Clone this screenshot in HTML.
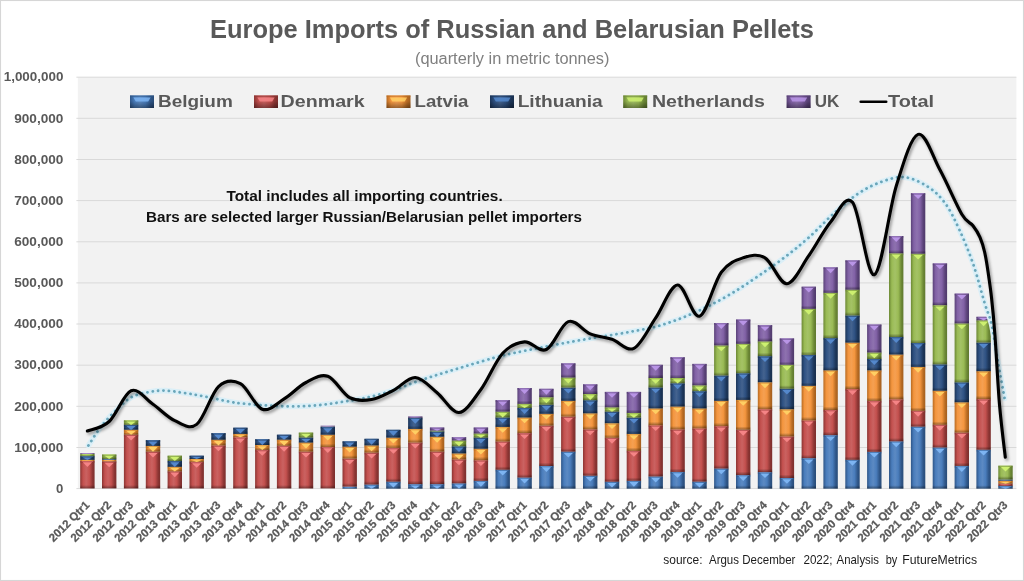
<!DOCTYPE html>
<html lang="en"><head><meta charset="utf-8"><title>Europe Imports of Russian and Belarusian Pellets</title>
<style>html,body{margin:0;padding:0;background:#fff}svg{display:block}text{font-family:"Liberation Sans",sans-serif}.b{font-weight:bold}</style>
</head><body>
<svg width="1024" height="581" viewBox="0 0 1024 581">
<defs>
<linearGradient id="g0" x1="0" x2="1" y1="0" y2="0"><stop offset="0" stop-color="#2f5688"/><stop offset=".2" stop-color="#4a7dbc"/><stop offset=".42" stop-color="#5c8ac3"/><stop offset=".64" stop-color="#4a7dbc"/><stop offset=".86" stop-color="#2f5688"/><stop offset="1" stop-color="#294c78"/></linearGradient>
<linearGradient id="g1" x1="0" x2="1" y1="0" y2="0"><stop offset="0" stop-color="#8c3533"/><stop offset=".2" stop-color="#c4514f"/><stop offset=".42" stop-color="#ca6261"/><stop offset=".64" stop-color="#c4514f"/><stop offset=".86" stop-color="#8c3533"/><stop offset="1" stop-color="#7b2f2d"/></linearGradient>
<linearGradient id="g2" x1="0" x2="1" y1="0" y2="0"><stop offset="0" stop-color="#b86b22"/><stop offset=".2" stop-color="#f4963f"/><stop offset=".42" stop-color="#f5a052"/><stop offset=".64" stop-color="#f4963f"/><stop offset=".86" stop-color="#b86b22"/><stop offset="1" stop-color="#a25e1e"/></linearGradient>
<linearGradient id="g3" x1="0" x2="1" y1="0" y2="0"><stop offset="0" stop-color="#1c3558"/><stop offset=".2" stop-color="#2f5283"/><stop offset=".42" stop-color="#44638f"/><stop offset=".64" stop-color="#2f5283"/><stop offset=".86" stop-color="#1c3558"/><stop offset="1" stop-color="#192f4d"/></linearGradient>
<linearGradient id="g4" x1="0" x2="1" y1="0" y2="0"><stop offset="0" stop-color="#6c8835"/><stop offset=".2" stop-color="#9abb55"/><stop offset=".42" stop-color="#a4c266"/><stop offset=".64" stop-color="#9abb55"/><stop offset=".86" stop-color="#6c8835"/><stop offset="1" stop-color="#5f782f"/></linearGradient>
<linearGradient id="g5" x1="0" x2="1" y1="0" y2="0"><stop offset="0" stop-color="#5a4278"/><stop offset=".2" stop-color="#8262a6"/><stop offset=".42" stop-color="#8e72af"/><stop offset=".64" stop-color="#8262a6"/><stop offset=".86" stop-color="#5a4278"/><stop offset="1" stop-color="#4f3a6a"/></linearGradient>
<linearGradient id="sh" x1="0" x2="0" y1="0" y2="1"><stop offset="0" stop-color="#000" stop-opacity="0"/><stop offset="1" stop-color="#000" stop-opacity=".38"/></linearGradient>
<filter id="blur" x="-5%" y="-5%" width="110%" height="110%"><feGaussianBlur stdDeviation="1.6"/></filter>
<filter id="blur2" x="-5%" y="-5%" width="110%" height="110%"><feGaussianBlur stdDeviation="1.2"/></filter>
</defs>
<rect x="0" y="0" width="1024" height="581" fill="#fff"/>
<rect x="0.5" y="0.5" width="1023" height="580" fill="none" stroke="#d6d6d6" stroke-width="1.1"/>
<rect x="77.8" y="77.2" width="938.6" height="411.4" fill="#f2f2f2"/>
<line x1="76.4" x2="1016.4" y1="488.6" y2="488.6" stroke="#d9d9d9" stroke-width="1"/>
<line x1="76.4" x2="1016.4" y1="447.5" y2="447.5" stroke="#d9d9d9" stroke-width="1"/>
<line x1="76.4" x2="1016.4" y1="406.3" y2="406.3" stroke="#d9d9d9" stroke-width="1"/>
<line x1="76.4" x2="1016.4" y1="365.2" y2="365.2" stroke="#d9d9d9" stroke-width="1"/>
<line x1="76.4" x2="1016.4" y1="324.0" y2="324.0" stroke="#d9d9d9" stroke-width="1"/>
<line x1="76.4" x2="1016.4" y1="282.9" y2="282.9" stroke="#d9d9d9" stroke-width="1"/>
<line x1="76.4" x2="1016.4" y1="241.8" y2="241.8" stroke="#d9d9d9" stroke-width="1"/>
<line x1="76.4" x2="1016.4" y1="200.6" y2="200.6" stroke="#d9d9d9" stroke-width="1"/>
<line x1="76.4" x2="1016.4" y1="159.5" y2="159.5" stroke="#d9d9d9" stroke-width="1"/>
<line x1="76.4" x2="1016.4" y1="118.3" y2="118.3" stroke="#d9d9d9" stroke-width="1"/>
<line x1="76.4" x2="1016.4" y1="77.2" y2="77.2" stroke="#d9d9d9" stroke-width="1"/>
<text class="b" x="512" y="37.7" font-size="26.4" fill="#595959" text-anchor="middle" textLength="604" lengthAdjust="spacingAndGlyphs">Europe Imports of Russian and Belarusian Pellets</text>
<text x="512.2" y="64.2" font-size="15.6" fill="#7f7f7f" text-anchor="middle" textLength="194.5" lengthAdjust="spacingAndGlyphs">(quarterly in metric tonnes)</text>
<text class="b" x="63.4" y="492.8" font-size="12.9" fill="#595959" text-anchor="end" textLength="7.3" lengthAdjust="spacingAndGlyphs">0</text>
<text class="b" x="63.4" y="451.7" font-size="12.9" fill="#595959" text-anchor="end" textLength="49.2" lengthAdjust="spacingAndGlyphs">100,000</text>
<text class="b" x="63.4" y="410.5" font-size="12.9" fill="#595959" text-anchor="end" textLength="49.2" lengthAdjust="spacingAndGlyphs">200,000</text>
<text class="b" x="63.4" y="369.4" font-size="12.9" fill="#595959" text-anchor="end" textLength="49.2" lengthAdjust="spacingAndGlyphs">300,000</text>
<text class="b" x="63.4" y="328.2" font-size="12.9" fill="#595959" text-anchor="end" textLength="49.2" lengthAdjust="spacingAndGlyphs">400,000</text>
<text class="b" x="63.4" y="287.1" font-size="12.9" fill="#595959" text-anchor="end" textLength="49.2" lengthAdjust="spacingAndGlyphs">500,000</text>
<text class="b" x="63.4" y="246.0" font-size="12.9" fill="#595959" text-anchor="end" textLength="49.2" lengthAdjust="spacingAndGlyphs">600,000</text>
<text class="b" x="63.4" y="204.8" font-size="12.9" fill="#595959" text-anchor="end" textLength="49.2" lengthAdjust="spacingAndGlyphs">700,000</text>
<text class="b" x="63.4" y="163.7" font-size="12.9" fill="#595959" text-anchor="end" textLength="49.2" lengthAdjust="spacingAndGlyphs">800,000</text>
<text class="b" x="63.4" y="122.5" font-size="12.9" fill="#595959" text-anchor="end" textLength="49.2" lengthAdjust="spacingAndGlyphs">900,000</text>
<text class="b" x="63.4" y="81.4" font-size="12.9" fill="#595959" text-anchor="end" textLength="59.7" lengthAdjust="spacingAndGlyphs">1,000,000</text>
<rect x="130.0" y="95.4" width="24" height="12.6" fill="url(#g0)"/>
<rect x="130.0" y="101" width="24" height="7" fill="url(#sh)"/>
<rect x="130.0" y="95.4" width="24" height="1.6" fill="#2f5688" opacity=".45"/>
<path d="M133.4 97.6H150.6L148.2 101.6H135.8Z" fill="#7db4f2" opacity=".85"/>
<text class="b" x="158.0" y="107.1" font-size="17.3" fill="#595959" textLength="74.8" lengthAdjust="spacingAndGlyphs">Belgium</text>
<rect x="254.0" y="95.4" width="24" height="12.6" fill="url(#g1)"/>
<rect x="254.0" y="101" width="24" height="7" fill="url(#sh)"/>
<rect x="254.0" y="95.4" width="24" height="1.6" fill="#8c3533" opacity=".45"/>
<path d="M257.4 97.6H274.6L272.2 101.6H259.8Z" fill="#f58486" opacity=".85"/>
<text class="b" x="280.6" y="107.1" font-size="17.3" fill="#595959" textLength="84.1" lengthAdjust="spacingAndGlyphs">Denmark</text>
<rect x="386.5" y="95.4" width="24" height="12.6" fill="url(#g2)"/>
<rect x="386.5" y="101" width="24" height="7" fill="url(#sh)"/>
<rect x="386.5" y="95.4" width="24" height="1.6" fill="#b86b22" opacity=".45"/>
<path d="M389.9 97.6H407.1L404.7 101.6H392.3Z" fill="#ffcf63" opacity=".85"/>
<text class="b" x="414.6" y="107.1" font-size="17.3" fill="#595959" textLength="53.9" lengthAdjust="spacingAndGlyphs">Latvia</text>
<rect x="490.0" y="95.4" width="24" height="12.6" fill="url(#g3)"/>
<rect x="490.0" y="101" width="24" height="7" fill="url(#sh)"/>
<rect x="490.0" y="95.4" width="24" height="1.6" fill="#1c3558" opacity=".45"/>
<path d="M493.4 97.6H510.6L508.2 101.6H495.8Z" fill="#5488cc" opacity=".85"/>
<text class="b" x="517.7" y="107.1" font-size="17.3" fill="#595959" textLength="85.0" lengthAdjust="spacingAndGlyphs">Lithuania</text>
<rect x="623.2" y="95.4" width="24" height="12.6" fill="url(#g4)"/>
<rect x="623.2" y="101" width="24" height="7" fill="url(#sh)"/>
<rect x="623.2" y="95.4" width="24" height="1.6" fill="#6c8835" opacity=".45"/>
<path d="M626.6 97.6H643.8L641.4 101.6H629.0Z" fill="#cdf070" opacity=".85"/>
<text class="b" x="651.9" y="107.1" font-size="17.3" fill="#595959" textLength="113.0" lengthAdjust="spacingAndGlyphs">Netherlands</text>
<rect x="786.6" y="95.4" width="24" height="12.6" fill="url(#g5)"/>
<rect x="786.6" y="101" width="24" height="7" fill="url(#sh)"/>
<rect x="786.6" y="95.4" width="24" height="1.6" fill="#5a4278" opacity=".45"/>
<path d="M790.0 97.6H807.2L804.8 101.6H792.4Z" fill="#b995e6" opacity=".85"/>
<text class="b" x="814.7" y="107.1" font-size="17.3" fill="#595959" textLength="24.6" lengthAdjust="spacingAndGlyphs">UK</text>
<line x1="860.7" x2="886.2" y1="101.7" y2="101.7" stroke="#000" stroke-width="2.6" stroke-linecap="round"/>
<text class="b" x="888" y="107.1" font-size="17.3" fill="#595959" textLength="46" lengthAdjust="spacingAndGlyphs">Total</text>
<text class="b" x="226.4" y="201.1" font-size="14.6" fill="#111" textLength="276.3" lengthAdjust="spacingAndGlyphs">Total includes all importing countries.</text>
<text class="b" x="146" y="222.2" font-size="14.6" fill="#111" textLength="436" lengthAdjust="spacingAndGlyphs">Bars are selected larger Russian/Belarusian pellet importers</text>
<rect x="80.2" y="461.0" width="14.4" height="27.4" fill="url(#g1)"/>
<rect x="80.2" y="485.0" width="14.4" height="3.4" fill="url(#sh)"/>
<rect x="80.2" y="461.0" width="14.4" height="1.8" fill="#8c3533" opacity=".5"/>
<rect x="81.7" y="461.0" width="11.4" height=".8" fill="#f58486" opacity=".55"/>
<path d="M82.8 462.3L92.0 462.3L87.4 466.9Z" fill="#f58486"/>
<rect x="80.2" y="459.8" width="14.4" height="1.2" fill="url(#g2)"/>
<rect x="80.2" y="460.4" width="14.4" height="0.6" fill="url(#sh)"/>
<rect x="82.2" y="459.8" width="10.4" height="1.0" fill="#ffcf63" opacity=".4"/>
<rect x="80.2" y="456.1" width="14.4" height="3.7" fill="url(#g3)"/>
<rect x="80.2" y="458.0" width="14.4" height="1.9" fill="url(#sh)"/>
<rect x="80.2" y="456.1" width="14.4" height="1.5" fill="#1c3558" opacity=".5"/>
<rect x="81.7" y="456.1" width="11.4" height=".8" fill="#5488cc" opacity=".55"/>
<path d="M82.8 457.4L92.0 457.4L87.4 459.9Z" fill="#5488cc"/>
<rect x="80.2" y="454.0" width="14.4" height="2.1" fill="url(#g4)"/>
<rect x="80.2" y="455.1" width="14.4" height="1.0" fill="url(#sh)"/>
<rect x="82.2" y="454.0" width="10.4" height="1.0" fill="#cdf070" opacity=".4"/>
<rect x="80.2" y="453.2" width="14.4" height="0.8" fill="url(#g5)"/>
<rect x="80.2" y="453.6" width="14.4" height="0.4" fill="url(#sh)"/>
<rect x="82.2" y="453.2" width="10.4" height="0.8" fill="#b995e6" opacity=".4"/>
<rect x="102.0" y="461.4" width="14.4" height="26.9" fill="url(#g1)"/>
<rect x="102.0" y="485.0" width="14.4" height="3.4" fill="url(#sh)"/>
<rect x="102.0" y="461.4" width="14.4" height="1.8" fill="#8c3533" opacity=".5"/>
<rect x="103.5" y="461.4" width="11.4" height=".8" fill="#f58486" opacity=".55"/>
<path d="M104.6 462.7L113.8 462.7L109.2 467.3Z" fill="#f58486"/>
<rect x="102.0" y="459.8" width="14.4" height="1.6" fill="url(#g2)"/>
<rect x="102.0" y="460.6" width="14.4" height="0.8" fill="url(#sh)"/>
<rect x="104.0" y="459.8" width="10.4" height="1.0" fill="#ffcf63" opacity=".4"/>
<rect x="102.0" y="459.0" width="14.4" height="0.8" fill="url(#g3)"/>
<rect x="102.0" y="459.4" width="14.4" height="0.4" fill="url(#sh)"/>
<rect x="104.0" y="459.0" width="10.4" height="0.8" fill="#5488cc" opacity=".4"/>
<rect x="102.0" y="454.5" width="14.4" height="4.5" fill="url(#g4)"/>
<rect x="102.0" y="456.7" width="14.4" height="2.3" fill="url(#sh)"/>
<rect x="102.0" y="454.5" width="14.4" height="1.8" fill="#6c8835" opacity=".5"/>
<rect x="103.5" y="454.5" width="11.4" height=".8" fill="#cdf070" opacity=".55"/>
<path d="M104.6 455.8L113.8 455.8L109.2 459.1Z" fill="#cdf070"/>
<rect x="123.9" y="434.7" width="14.4" height="53.7" fill="url(#g1)"/>
<rect x="123.9" y="485.0" width="14.4" height="3.4" fill="url(#sh)"/>
<rect x="123.9" y="434.7" width="14.4" height="1.8" fill="#8c3533" opacity=".5"/>
<rect x="125.4" y="434.7" width="11.4" height=".8" fill="#f58486" opacity=".55"/>
<path d="M126.5 436.0L135.7 436.0L131.1 440.6Z" fill="#f58486"/>
<rect x="123.9" y="429.8" width="14.4" height="4.9" fill="url(#g2)"/>
<rect x="123.9" y="432.2" width="14.4" height="2.5" fill="url(#sh)"/>
<rect x="123.9" y="429.8" width="14.4" height="1.8" fill="#b86b22" opacity=".5"/>
<rect x="125.4" y="429.8" width="11.4" height=".8" fill="#ffcf63" opacity=".55"/>
<path d="M126.5 431.1L135.7 431.1L131.1 434.8Z" fill="#ffcf63"/>
<rect x="123.9" y="424.8" width="14.4" height="4.9" fill="url(#g3)"/>
<rect x="123.9" y="427.3" width="14.4" height="2.5" fill="url(#sh)"/>
<rect x="123.9" y="424.8" width="14.4" height="1.8" fill="#1c3558" opacity=".5"/>
<rect x="125.4" y="424.8" width="11.4" height=".8" fill="#5488cc" opacity=".55"/>
<path d="M126.5 426.1L135.7 426.1L131.1 429.9Z" fill="#5488cc"/>
<rect x="123.9" y="420.3" width="14.4" height="4.5" fill="url(#g4)"/>
<rect x="123.9" y="422.6" width="14.4" height="2.3" fill="url(#sh)"/>
<rect x="123.9" y="420.3" width="14.4" height="1.8" fill="#6c8835" opacity=".5"/>
<rect x="125.4" y="420.3" width="11.4" height=".8" fill="#cdf070" opacity=".55"/>
<path d="M126.5 421.6L135.7 421.6L131.1 424.9Z" fill="#cdf070"/>
<rect x="145.8" y="451.6" width="14.4" height="36.8" fill="url(#g1)"/>
<rect x="145.8" y="485.0" width="14.4" height="3.4" fill="url(#sh)"/>
<rect x="145.8" y="451.6" width="14.4" height="1.8" fill="#8c3533" opacity=".5"/>
<rect x="147.3" y="451.6" width="11.4" height=".8" fill="#f58486" opacity=".55"/>
<path d="M148.4 452.9L157.6 452.9L153.0 457.5Z" fill="#f58486"/>
<rect x="145.8" y="445.8" width="14.4" height="5.8" fill="url(#g2)"/>
<rect x="145.8" y="448.7" width="14.4" height="2.9" fill="url(#sh)"/>
<rect x="145.8" y="445.8" width="14.4" height="1.8" fill="#b86b22" opacity=".5"/>
<rect x="147.3" y="445.8" width="11.4" height=".8" fill="#ffcf63" opacity=".55"/>
<path d="M148.4 447.1L157.6 447.1L153.0 451.7Z" fill="#ffcf63"/>
<rect x="145.8" y="440.1" width="14.4" height="5.8" fill="url(#g3)"/>
<rect x="145.8" y="442.9" width="14.4" height="2.9" fill="url(#sh)"/>
<rect x="145.8" y="440.1" width="14.4" height="1.8" fill="#1c3558" opacity=".5"/>
<rect x="147.3" y="440.1" width="11.4" height=".8" fill="#5488cc" opacity=".55"/>
<path d="M148.4 441.4L157.6 441.4L153.0 445.9Z" fill="#5488cc"/>
<rect x="167.6" y="471.3" width="14.4" height="17.1" fill="url(#g1)"/>
<rect x="167.6" y="485.0" width="14.4" height="3.4" fill="url(#sh)"/>
<rect x="167.6" y="471.3" width="14.4" height="1.8" fill="#8c3533" opacity=".5"/>
<rect x="169.1" y="471.3" width="11.4" height=".8" fill="#f58486" opacity=".55"/>
<path d="M170.2 472.6L179.4 472.6L174.8 477.2Z" fill="#f58486"/>
<rect x="167.6" y="466.8" width="14.4" height="4.5" fill="url(#g2)"/>
<rect x="167.6" y="469.1" width="14.4" height="2.3" fill="url(#sh)"/>
<rect x="167.6" y="466.8" width="14.4" height="1.8" fill="#b86b22" opacity=".5"/>
<rect x="169.1" y="466.8" width="11.4" height=".8" fill="#ffcf63" opacity=".55"/>
<path d="M170.2 468.1L179.4 468.1L174.8 471.4Z" fill="#ffcf63"/>
<rect x="167.6" y="461.0" width="14.4" height="5.8" fill="url(#g3)"/>
<rect x="167.6" y="463.9" width="14.4" height="2.9" fill="url(#sh)"/>
<rect x="167.6" y="461.0" width="14.4" height="1.8" fill="#1c3558" opacity=".5"/>
<rect x="169.1" y="461.0" width="11.4" height=".8" fill="#5488cc" opacity=".55"/>
<path d="M170.2 462.3L179.4 462.3L174.8 466.9Z" fill="#5488cc"/>
<rect x="167.6" y="455.7" width="14.4" height="5.3" fill="url(#g4)"/>
<rect x="167.6" y="458.4" width="14.4" height="2.7" fill="url(#sh)"/>
<rect x="167.6" y="455.7" width="14.4" height="1.8" fill="#6c8835" opacity=".5"/>
<rect x="169.1" y="455.7" width="11.4" height=".8" fill="#cdf070" opacity=".55"/>
<path d="M170.2 457.0L179.4 457.0L174.8 461.1Z" fill="#cdf070"/>
<rect x="189.5" y="461.9" width="14.4" height="26.5" fill="url(#g1)"/>
<rect x="189.5" y="485.0" width="14.4" height="3.4" fill="url(#sh)"/>
<rect x="189.5" y="461.9" width="14.4" height="1.8" fill="#8c3533" opacity=".5"/>
<rect x="191.0" y="461.9" width="11.4" height=".8" fill="#f58486" opacity=".55"/>
<path d="M192.1 463.2L201.3 463.2L196.7 467.8Z" fill="#f58486"/>
<rect x="189.5" y="459.0" width="14.4" height="2.9" fill="url(#g2)"/>
<rect x="189.5" y="460.4" width="14.4" height="1.4" fill="url(#sh)"/>
<rect x="189.5" y="459.0" width="14.4" height="1.2" fill="#b86b22" opacity=".5"/>
<rect x="191.0" y="459.0" width="11.4" height=".8" fill="#ffcf63" opacity=".55"/>
<path d="M192.1 460.3L201.3 460.3L196.7 462.0Z" fill="#ffcf63"/>
<rect x="189.5" y="455.7" width="14.4" height="3.3" fill="url(#g3)"/>
<rect x="189.5" y="457.3" width="14.4" height="1.6" fill="url(#sh)"/>
<rect x="189.5" y="455.7" width="14.4" height="1.3" fill="#1c3558" opacity=".5"/>
<rect x="191.0" y="455.7" width="11.4" height=".8" fill="#5488cc" opacity=".55"/>
<path d="M192.1 457.0L201.3 457.0L196.7 459.1Z" fill="#5488cc"/>
<rect x="211.3" y="445.4" width="14.4" height="43.0" fill="url(#g1)"/>
<rect x="211.3" y="485.0" width="14.4" height="3.4" fill="url(#sh)"/>
<rect x="211.3" y="445.4" width="14.4" height="1.8" fill="#8c3533" opacity=".5"/>
<rect x="212.8" y="445.4" width="11.4" height=".8" fill="#f58486" opacity=".55"/>
<path d="M213.9 446.7L223.1 446.7L218.5 451.3Z" fill="#f58486"/>
<rect x="211.3" y="439.6" width="14.4" height="5.8" fill="url(#g2)"/>
<rect x="211.3" y="442.5" width="14.4" height="2.9" fill="url(#sh)"/>
<rect x="211.3" y="439.6" width="14.4" height="1.8" fill="#b86b22" opacity=".5"/>
<rect x="212.8" y="439.6" width="11.4" height=".8" fill="#ffcf63" opacity=".55"/>
<path d="M213.9 440.9L223.1 440.9L218.5 445.5Z" fill="#ffcf63"/>
<rect x="211.3" y="433.1" width="14.4" height="6.6" fill="url(#g3)"/>
<rect x="211.3" y="436.4" width="14.4" height="3.3" fill="url(#sh)"/>
<rect x="211.3" y="433.1" width="14.4" height="1.8" fill="#1c3558" opacity=".5"/>
<rect x="212.8" y="433.1" width="11.4" height=".8" fill="#5488cc" opacity=".55"/>
<path d="M213.9 434.4L223.1 434.4L218.5 439.0Z" fill="#5488cc"/>
<rect x="233.2" y="437.2" width="14.4" height="51.2" fill="url(#g1)"/>
<rect x="233.2" y="485.0" width="14.4" height="3.4" fill="url(#sh)"/>
<rect x="233.2" y="437.2" width="14.4" height="1.8" fill="#8c3533" opacity=".5"/>
<rect x="234.7" y="437.2" width="11.4" height=".8" fill="#f58486" opacity=".55"/>
<path d="M235.8 438.5L245.0 438.5L240.4 443.1Z" fill="#f58486"/>
<rect x="233.2" y="433.9" width="14.4" height="3.3" fill="url(#g2)"/>
<rect x="233.2" y="435.5" width="14.4" height="1.6" fill="url(#sh)"/>
<rect x="233.2" y="433.9" width="14.4" height="1.3" fill="#b86b22" opacity=".5"/>
<rect x="234.7" y="433.9" width="11.4" height=".8" fill="#ffcf63" opacity=".55"/>
<path d="M235.8 435.2L245.0 435.2L240.4 437.3Z" fill="#ffcf63"/>
<rect x="233.2" y="427.7" width="14.4" height="6.2" fill="url(#g3)"/>
<rect x="233.2" y="430.8" width="14.4" height="3.1" fill="url(#sh)"/>
<rect x="233.2" y="427.7" width="14.4" height="1.8" fill="#1c3558" opacity=".5"/>
<rect x="234.7" y="427.7" width="11.4" height=".8" fill="#5488cc" opacity=".55"/>
<path d="M235.8 429.0L245.0 429.0L240.4 433.6Z" fill="#5488cc"/>
<rect x="255.1" y="449.9" width="14.4" height="38.5" fill="url(#g1)"/>
<rect x="255.1" y="485.0" width="14.4" height="3.4" fill="url(#sh)"/>
<rect x="255.1" y="449.9" width="14.4" height="1.8" fill="#8c3533" opacity=".5"/>
<rect x="256.6" y="449.9" width="11.4" height=".8" fill="#f58486" opacity=".55"/>
<path d="M257.7 451.2L266.9 451.2L262.3 455.8Z" fill="#f58486"/>
<rect x="255.1" y="445.0" width="14.4" height="4.9" fill="url(#g2)"/>
<rect x="255.1" y="447.5" width="14.4" height="2.5" fill="url(#sh)"/>
<rect x="255.1" y="445.0" width="14.4" height="1.8" fill="#b86b22" opacity=".5"/>
<rect x="256.6" y="445.0" width="11.4" height=".8" fill="#ffcf63" opacity=".55"/>
<path d="M257.7 446.3L266.9 446.3L262.3 450.0Z" fill="#ffcf63"/>
<rect x="255.1" y="439.2" width="14.4" height="5.8" fill="url(#g3)"/>
<rect x="255.1" y="442.1" width="14.4" height="2.9" fill="url(#sh)"/>
<rect x="255.1" y="439.2" width="14.4" height="1.8" fill="#1c3558" opacity=".5"/>
<rect x="256.6" y="439.2" width="11.4" height=".8" fill="#5488cc" opacity=".55"/>
<path d="M257.7 440.5L266.9 440.5L262.3 445.1Z" fill="#5488cc"/>
<rect x="276.9" y="445.8" width="14.4" height="42.6" fill="url(#g1)"/>
<rect x="276.9" y="485.0" width="14.4" height="3.4" fill="url(#sh)"/>
<rect x="276.9" y="445.8" width="14.4" height="1.8" fill="#8c3533" opacity=".5"/>
<rect x="278.4" y="445.8" width="11.4" height=".8" fill="#f58486" opacity=".55"/>
<path d="M279.5 447.1L288.7 447.1L284.1 451.7Z" fill="#f58486"/>
<rect x="276.9" y="439.6" width="14.4" height="6.2" fill="url(#g2)"/>
<rect x="276.9" y="442.7" width="14.4" height="3.1" fill="url(#sh)"/>
<rect x="276.9" y="439.6" width="14.4" height="1.8" fill="#b86b22" opacity=".5"/>
<rect x="278.4" y="439.6" width="11.4" height=".8" fill="#ffcf63" opacity=".55"/>
<path d="M279.5 440.9L288.7 440.9L284.1 445.5Z" fill="#ffcf63"/>
<rect x="276.9" y="434.7" width="14.4" height="4.9" fill="url(#g3)"/>
<rect x="276.9" y="437.2" width="14.4" height="2.5" fill="url(#sh)"/>
<rect x="276.9" y="434.7" width="14.4" height="1.8" fill="#1c3558" opacity=".5"/>
<rect x="278.4" y="434.7" width="11.4" height=".8" fill="#5488cc" opacity=".55"/>
<path d="M279.5 436.0L288.7 436.0L284.1 439.7Z" fill="#5488cc"/>
<rect x="298.8" y="451.6" width="14.4" height="36.8" fill="url(#g1)"/>
<rect x="298.8" y="485.0" width="14.4" height="3.4" fill="url(#sh)"/>
<rect x="298.8" y="451.6" width="14.4" height="1.8" fill="#8c3533" opacity=".5"/>
<rect x="300.3" y="451.6" width="11.4" height=".8" fill="#f58486" opacity=".55"/>
<path d="M301.4 452.9L310.6 452.9L306.0 457.5Z" fill="#f58486"/>
<rect x="298.8" y="442.5" width="14.4" height="9.1" fill="url(#g2)"/>
<rect x="298.8" y="448.2" width="14.4" height="3.4" fill="url(#sh)"/>
<rect x="298.8" y="442.5" width="14.4" height="1.8" fill="#b86b22" opacity=".5"/>
<rect x="300.3" y="442.5" width="11.4" height=".8" fill="#ffcf63" opacity=".55"/>
<path d="M301.4 443.8L310.6 443.8L306.0 448.4Z" fill="#ffcf63"/>
<rect x="298.8" y="437.6" width="14.4" height="4.9" fill="url(#g3)"/>
<rect x="298.8" y="440.1" width="14.4" height="2.5" fill="url(#sh)"/>
<rect x="298.8" y="437.6" width="14.4" height="1.8" fill="#1c3558" opacity=".5"/>
<rect x="300.3" y="437.6" width="11.4" height=".8" fill="#5488cc" opacity=".55"/>
<path d="M301.4 438.9L310.6 438.9L306.0 442.6Z" fill="#5488cc"/>
<rect x="298.8" y="432.6" width="14.4" height="4.9" fill="url(#g4)"/>
<rect x="298.8" y="435.1" width="14.4" height="2.5" fill="url(#sh)"/>
<rect x="298.8" y="432.6" width="14.4" height="1.8" fill="#6c8835" opacity=".5"/>
<rect x="300.3" y="432.6" width="11.4" height=".8" fill="#cdf070" opacity=".55"/>
<path d="M301.4 433.9L310.6 433.9L306.0 437.7Z" fill="#cdf070"/>
<rect x="320.6" y="447.0" width="14.4" height="41.3" fill="url(#g1)"/>
<rect x="320.6" y="485.0" width="14.4" height="3.4" fill="url(#sh)"/>
<rect x="320.6" y="447.0" width="14.4" height="1.8" fill="#8c3533" opacity=".5"/>
<rect x="322.1" y="447.0" width="11.4" height=".8" fill="#f58486" opacity=".55"/>
<path d="M323.2 448.3L332.4 448.3L327.8 452.9Z" fill="#f58486"/>
<rect x="320.6" y="434.7" width="14.4" height="12.3" fill="url(#g2)"/>
<rect x="320.6" y="443.6" width="14.4" height="3.4" fill="url(#sh)"/>
<rect x="320.6" y="434.7" width="14.4" height="1.8" fill="#b86b22" opacity=".5"/>
<rect x="322.1" y="434.7" width="11.4" height=".8" fill="#ffcf63" opacity=".55"/>
<path d="M323.2 436.0L332.4 436.0L327.8 440.6Z" fill="#ffcf63"/>
<rect x="320.6" y="426.9" width="14.4" height="7.8" fill="url(#g3)"/>
<rect x="320.6" y="431.3" width="14.4" height="3.4" fill="url(#sh)"/>
<rect x="320.6" y="426.9" width="14.4" height="1.8" fill="#1c3558" opacity=".5"/>
<rect x="322.1" y="426.9" width="11.4" height=".8" fill="#5488cc" opacity=".55"/>
<path d="M323.2 428.2L332.4 428.2L327.8 432.8Z" fill="#5488cc"/>
<rect x="320.6" y="425.7" width="14.4" height="0.8" fill="url(#g5)"/>
<rect x="320.6" y="426.1" width="14.4" height="0.4" fill="url(#sh)"/>
<rect x="322.6" y="425.7" width="10.4" height="0.8" fill="#b995e6" opacity=".4"/>
<rect x="342.5" y="486.5" width="14.4" height="2.1" fill="url(#g0)"/>
<rect x="342.5" y="487.6" width="14.4" height="1.0" fill="url(#sh)"/>
<rect x="344.5" y="486.5" width="10.4" height="1.0" fill="#7db4f2" opacity=".4"/>
<rect x="342.5" y="458.6" width="14.4" height="28.0" fill="url(#g1)"/>
<rect x="342.5" y="483.1" width="14.4" height="3.4" fill="url(#sh)"/>
<rect x="342.5" y="458.6" width="14.4" height="1.8" fill="#8c3533" opacity=".5"/>
<rect x="344.0" y="458.6" width="11.4" height=".8" fill="#f58486" opacity=".55"/>
<path d="M345.1 459.9L354.3 459.9L349.7 464.5Z" fill="#f58486"/>
<rect x="342.5" y="446.6" width="14.4" height="11.9" fill="url(#g2)"/>
<rect x="342.5" y="455.2" width="14.4" height="3.4" fill="url(#sh)"/>
<rect x="342.5" y="446.6" width="14.4" height="1.8" fill="#b86b22" opacity=".5"/>
<rect x="344.0" y="446.6" width="11.4" height=".8" fill="#ffcf63" opacity=".55"/>
<path d="M345.1 447.9L354.3 447.9L349.7 452.5Z" fill="#ffcf63"/>
<rect x="342.5" y="441.3" width="14.4" height="5.3" fill="url(#g3)"/>
<rect x="342.5" y="444.0" width="14.4" height="2.7" fill="url(#sh)"/>
<rect x="342.5" y="441.3" width="14.4" height="1.8" fill="#1c3558" opacity=".5"/>
<rect x="344.0" y="441.3" width="11.4" height=".8" fill="#5488cc" opacity=".55"/>
<path d="M345.1 442.6L354.3 442.6L349.7 446.7Z" fill="#5488cc"/>
<rect x="364.4" y="484.5" width="14.4" height="4.1" fill="url(#g0)"/>
<rect x="364.4" y="486.5" width="14.4" height="2.1" fill="url(#sh)"/>
<rect x="364.4" y="484.5" width="14.4" height="1.6" fill="#2f5688" opacity=".5"/>
<rect x="365.9" y="484.5" width="11.4" height=".8" fill="#7db4f2" opacity=".55"/>
<path d="M367.0 485.8L376.2 485.8L371.6 488.7Z" fill="#7db4f2"/>
<rect x="364.4" y="452.6" width="14.4" height="31.9" fill="url(#g1)"/>
<rect x="364.4" y="481.1" width="14.4" height="3.4" fill="url(#sh)"/>
<rect x="364.4" y="452.6" width="14.4" height="1.8" fill="#8c3533" opacity=".5"/>
<rect x="365.9" y="452.6" width="11.4" height=".8" fill="#f58486" opacity=".55"/>
<path d="M367.0 453.9L376.2 453.9L371.6 458.5Z" fill="#f58486"/>
<rect x="364.4" y="445.4" width="14.4" height="7.2" fill="url(#g2)"/>
<rect x="364.4" y="449.2" width="14.4" height="3.4" fill="url(#sh)"/>
<rect x="364.4" y="445.4" width="14.4" height="1.8" fill="#b86b22" opacity=".5"/>
<rect x="365.9" y="445.4" width="11.4" height=".8" fill="#ffcf63" opacity=".55"/>
<path d="M367.0 446.7L376.2 446.7L371.6 451.3Z" fill="#ffcf63"/>
<rect x="364.4" y="438.8" width="14.4" height="6.6" fill="url(#g3)"/>
<rect x="364.4" y="442.1" width="14.4" height="3.3" fill="url(#sh)"/>
<rect x="364.4" y="438.8" width="14.4" height="1.8" fill="#1c3558" opacity=".5"/>
<rect x="365.9" y="438.8" width="11.4" height=".8" fill="#5488cc" opacity=".55"/>
<path d="M367.0 440.1L376.2 440.1L371.6 444.7Z" fill="#5488cc"/>
<rect x="386.2" y="481.6" width="14.4" height="7.0" fill="url(#g0)"/>
<rect x="386.2" y="485.2" width="14.4" height="3.4" fill="url(#sh)"/>
<rect x="386.2" y="481.6" width="14.4" height="1.8" fill="#2f5688" opacity=".5"/>
<rect x="387.7" y="481.6" width="11.4" height=".8" fill="#7db4f2" opacity=".55"/>
<path d="M388.8 482.9L398.0 482.9L393.4 487.5Z" fill="#7db4f2"/>
<rect x="386.2" y="447.9" width="14.4" height="33.7" fill="url(#g1)"/>
<rect x="386.2" y="478.2" width="14.4" height="3.4" fill="url(#sh)"/>
<rect x="386.2" y="447.9" width="14.4" height="1.8" fill="#8c3533" opacity=".5"/>
<rect x="387.7" y="447.9" width="11.4" height=".8" fill="#f58486" opacity=".55"/>
<path d="M388.8 449.2L398.0 449.2L393.4 453.8Z" fill="#f58486"/>
<rect x="386.2" y="437.6" width="14.4" height="10.3" fill="url(#g2)"/>
<rect x="386.2" y="444.5" width="14.4" height="3.4" fill="url(#sh)"/>
<rect x="386.2" y="437.6" width="14.4" height="1.8" fill="#b86b22" opacity=".5"/>
<rect x="387.7" y="437.6" width="11.4" height=".8" fill="#ffcf63" opacity=".55"/>
<path d="M388.8 438.9L398.0 438.9L393.4 443.5Z" fill="#ffcf63"/>
<rect x="386.2" y="429.8" width="14.4" height="7.8" fill="url(#g3)"/>
<rect x="386.2" y="434.2" width="14.4" height="3.4" fill="url(#sh)"/>
<rect x="386.2" y="429.8" width="14.4" height="1.8" fill="#1c3558" opacity=".5"/>
<rect x="387.7" y="429.8" width="11.4" height=".8" fill="#5488cc" opacity=".55"/>
<path d="M388.8 431.1L398.0 431.1L393.4 435.7Z" fill="#5488cc"/>
<rect x="408.1" y="484.1" width="14.4" height="4.5" fill="url(#g0)"/>
<rect x="408.1" y="486.3" width="14.4" height="2.3" fill="url(#sh)"/>
<rect x="408.1" y="484.1" width="14.4" height="1.8" fill="#2f5688" opacity=".5"/>
<rect x="409.6" y="484.1" width="11.4" height=".8" fill="#7db4f2" opacity=".55"/>
<path d="M410.7 485.4L419.9 485.4L415.3 488.7Z" fill="#7db4f2"/>
<rect x="408.1" y="442.5" width="14.4" height="41.6" fill="url(#g1)"/>
<rect x="408.1" y="480.7" width="14.4" height="3.4" fill="url(#sh)"/>
<rect x="408.1" y="442.5" width="14.4" height="1.8" fill="#8c3533" opacity=".5"/>
<rect x="409.6" y="442.5" width="11.4" height=".8" fill="#f58486" opacity=".55"/>
<path d="M410.7 443.8L419.9 443.8L415.3 448.4Z" fill="#f58486"/>
<rect x="408.1" y="428.9" width="14.4" height="13.6" fill="url(#g2)"/>
<rect x="408.1" y="439.1" width="14.4" height="3.4" fill="url(#sh)"/>
<rect x="408.1" y="428.9" width="14.4" height="1.8" fill="#b86b22" opacity=".5"/>
<rect x="409.6" y="428.9" width="11.4" height=".8" fill="#ffcf63" opacity=".55"/>
<path d="M410.7 430.2L419.9 430.2L415.3 434.8Z" fill="#ffcf63"/>
<rect x="408.1" y="417.8" width="14.4" height="11.1" fill="url(#g3)"/>
<rect x="408.1" y="425.5" width="14.4" height="3.4" fill="url(#sh)"/>
<rect x="408.1" y="417.8" width="14.4" height="1.8" fill="#1c3558" opacity=".5"/>
<rect x="409.6" y="417.8" width="11.4" height=".8" fill="#5488cc" opacity=".55"/>
<path d="M410.7 419.1L419.9 419.1L415.3 423.7Z" fill="#5488cc"/>
<rect x="408.1" y="416.4" width="14.4" height="1.4" fill="url(#g5)"/>
<rect x="408.1" y="417.1" width="14.4" height="0.7" fill="url(#sh)"/>
<rect x="410.1" y="416.4" width="10.4" height="1.0" fill="#b995e6" opacity=".4"/>
<rect x="429.9" y="484.1" width="14.4" height="4.5" fill="url(#g0)"/>
<rect x="429.9" y="486.3" width="14.4" height="2.3" fill="url(#sh)"/>
<rect x="429.9" y="484.1" width="14.4" height="1.8" fill="#2f5688" opacity=".5"/>
<rect x="431.4" y="484.1" width="11.4" height=".8" fill="#7db4f2" opacity=".55"/>
<path d="M432.5 485.4L441.7 485.4L437.1 488.7Z" fill="#7db4f2"/>
<rect x="429.9" y="451.6" width="14.4" height="32.5" fill="url(#g1)"/>
<rect x="429.9" y="480.7" width="14.4" height="3.4" fill="url(#sh)"/>
<rect x="429.9" y="451.6" width="14.4" height="1.8" fill="#8c3533" opacity=".5"/>
<rect x="431.4" y="451.6" width="11.4" height=".8" fill="#f58486" opacity=".55"/>
<path d="M432.5 452.9L441.7 452.9L437.1 457.5Z" fill="#f58486"/>
<rect x="429.9" y="436.8" width="14.4" height="14.8" fill="url(#g2)"/>
<rect x="429.9" y="448.2" width="14.4" height="3.4" fill="url(#sh)"/>
<rect x="429.9" y="436.8" width="14.4" height="1.8" fill="#b86b22" opacity=".5"/>
<rect x="431.4" y="436.8" width="11.4" height=".8" fill="#ffcf63" opacity=".55"/>
<path d="M432.5 438.1L441.7 438.1L437.1 442.7Z" fill="#ffcf63"/>
<rect x="429.9" y="431.4" width="14.4" height="5.3" fill="url(#g3)"/>
<rect x="429.9" y="434.1" width="14.4" height="2.7" fill="url(#sh)"/>
<rect x="429.9" y="431.4" width="14.4" height="1.8" fill="#1c3558" opacity=".5"/>
<rect x="431.4" y="431.4" width="11.4" height=".8" fill="#5488cc" opacity=".55"/>
<path d="M432.5 432.7L441.7 432.7L437.1 436.9Z" fill="#5488cc"/>
<rect x="429.9" y="430.6" width="14.4" height="0.8" fill="url(#g4)"/>
<rect x="429.9" y="431.0" width="14.4" height="0.4" fill="url(#sh)"/>
<rect x="431.9" y="430.6" width="10.4" height="0.8" fill="#cdf070" opacity=".4"/>
<rect x="429.9" y="427.5" width="14.4" height="3.1" fill="url(#g5)"/>
<rect x="429.9" y="429.0" width="14.4" height="1.5" fill="url(#sh)"/>
<rect x="429.9" y="427.5" width="14.4" height="1.2" fill="#5a4278" opacity=".5"/>
<rect x="431.4" y="427.5" width="11.4" height=".8" fill="#b995e6" opacity=".55"/>
<path d="M432.5 428.8L441.7 428.8L437.1 430.7Z" fill="#b995e6"/>
<rect x="451.8" y="483.3" width="14.4" height="5.3" fill="url(#g0)"/>
<rect x="451.8" y="485.9" width="14.4" height="2.7" fill="url(#sh)"/>
<rect x="451.8" y="483.3" width="14.4" height="1.8" fill="#2f5688" opacity=".5"/>
<rect x="453.3" y="483.3" width="11.4" height=".8" fill="#7db4f2" opacity=".55"/>
<path d="M454.4 484.6L463.6 484.6L459.0 488.7Z" fill="#7db4f2"/>
<rect x="451.8" y="459.4" width="14.4" height="23.9" fill="url(#g1)"/>
<rect x="451.8" y="479.9" width="14.4" height="3.4" fill="url(#sh)"/>
<rect x="451.8" y="459.4" width="14.4" height="1.8" fill="#8c3533" opacity=".5"/>
<rect x="453.3" y="459.4" width="11.4" height=".8" fill="#f58486" opacity=".55"/>
<path d="M454.4 460.7L463.6 460.7L459.0 465.3Z" fill="#f58486"/>
<rect x="451.8" y="453.4" width="14.4" height="6.0" fill="url(#g2)"/>
<rect x="451.8" y="456.4" width="14.4" height="3.0" fill="url(#sh)"/>
<rect x="451.8" y="453.4" width="14.4" height="1.8" fill="#b86b22" opacity=".5"/>
<rect x="453.3" y="453.4" width="11.4" height=".8" fill="#ffcf63" opacity=".55"/>
<path d="M454.4 454.7L463.6 454.7L459.0 459.3Z" fill="#ffcf63"/>
<rect x="451.8" y="446.2" width="14.4" height="7.2" fill="url(#g3)"/>
<rect x="451.8" y="450.0" width="14.4" height="3.4" fill="url(#sh)"/>
<rect x="451.8" y="446.2" width="14.4" height="1.8" fill="#1c3558" opacity=".5"/>
<rect x="453.3" y="446.2" width="11.4" height=".8" fill="#5488cc" opacity=".55"/>
<path d="M454.4 447.5L463.6 447.5L459.0 452.1Z" fill="#5488cc"/>
<rect x="451.8" y="440.5" width="14.4" height="5.8" fill="url(#g4)"/>
<rect x="451.8" y="443.3" width="14.4" height="2.9" fill="url(#sh)"/>
<rect x="451.8" y="440.5" width="14.4" height="1.8" fill="#6c8835" opacity=".5"/>
<rect x="453.3" y="440.5" width="11.4" height=".8" fill="#cdf070" opacity=".55"/>
<path d="M454.4 441.8L463.6 441.8L459.0 446.3Z" fill="#cdf070"/>
<rect x="451.8" y="437.2" width="14.4" height="3.3" fill="url(#g5)"/>
<rect x="451.8" y="438.8" width="14.4" height="1.6" fill="url(#sh)"/>
<rect x="451.8" y="437.2" width="14.4" height="1.3" fill="#5a4278" opacity=".5"/>
<rect x="453.3" y="437.2" width="11.4" height=".8" fill="#b995e6" opacity=".55"/>
<path d="M454.4 438.5L463.6 438.5L459.0 440.6Z" fill="#b995e6"/>
<rect x="473.7" y="480.8" width="14.4" height="7.8" fill="url(#g0)"/>
<rect x="473.7" y="485.2" width="14.4" height="3.4" fill="url(#sh)"/>
<rect x="473.7" y="480.8" width="14.4" height="1.8" fill="#2f5688" opacity=".5"/>
<rect x="475.2" y="480.8" width="11.4" height=".8" fill="#7db4f2" opacity=".55"/>
<path d="M476.3 482.1L485.5 482.1L480.9 486.7Z" fill="#7db4f2"/>
<rect x="473.7" y="460.2" width="14.4" height="20.6" fill="url(#g1)"/>
<rect x="473.7" y="477.4" width="14.4" height="3.4" fill="url(#sh)"/>
<rect x="473.7" y="460.2" width="14.4" height="1.8" fill="#8c3533" opacity=".5"/>
<rect x="475.2" y="460.2" width="11.4" height=".8" fill="#f58486" opacity=".55"/>
<path d="M476.3 461.5L485.5 461.5L480.9 466.1Z" fill="#f58486"/>
<rect x="473.7" y="448.7" width="14.4" height="11.5" fill="url(#g2)"/>
<rect x="473.7" y="456.8" width="14.4" height="3.4" fill="url(#sh)"/>
<rect x="473.7" y="448.7" width="14.4" height="1.8" fill="#b86b22" opacity=".5"/>
<rect x="475.2" y="448.7" width="11.4" height=".8" fill="#ffcf63" opacity=".55"/>
<path d="M476.3 450.0L485.5 450.0L480.9 454.6Z" fill="#ffcf63"/>
<rect x="473.7" y="437.6" width="14.4" height="11.1" fill="url(#g3)"/>
<rect x="473.7" y="445.3" width="14.4" height="3.4" fill="url(#sh)"/>
<rect x="473.7" y="437.6" width="14.4" height="1.8" fill="#1c3558" opacity=".5"/>
<rect x="475.2" y="437.6" width="11.4" height=".8" fill="#5488cc" opacity=".55"/>
<path d="M476.3 438.9L485.5 438.9L480.9 443.5Z" fill="#5488cc"/>
<rect x="473.7" y="433.5" width="14.4" height="4.1" fill="url(#g4)"/>
<rect x="473.7" y="435.5" width="14.4" height="2.1" fill="url(#sh)"/>
<rect x="473.7" y="433.5" width="14.4" height="1.6" fill="#6c8835" opacity=".5"/>
<rect x="475.2" y="433.5" width="11.4" height=".8" fill="#cdf070" opacity=".55"/>
<path d="M476.3 434.8L485.5 434.8L480.9 437.7Z" fill="#cdf070"/>
<rect x="473.7" y="427.5" width="14.4" height="6.0" fill="url(#g5)"/>
<rect x="473.7" y="430.5" width="14.4" height="3.0" fill="url(#sh)"/>
<rect x="473.7" y="427.5" width="14.4" height="1.8" fill="#5a4278" opacity=".5"/>
<rect x="475.2" y="427.5" width="11.4" height=".8" fill="#b995e6" opacity=".55"/>
<path d="M476.3 428.8L485.5 428.8L480.9 433.4Z" fill="#b995e6"/>
<rect x="495.5" y="469.7" width="14.4" height="18.9" fill="url(#g0)"/>
<rect x="495.5" y="485.2" width="14.4" height="3.4" fill="url(#sh)"/>
<rect x="495.5" y="469.7" width="14.4" height="1.8" fill="#2f5688" opacity=".5"/>
<rect x="497.0" y="469.7" width="11.4" height=".8" fill="#7db4f2" opacity=".55"/>
<path d="M498.1 471.0L507.3 471.0L502.7 475.6Z" fill="#7db4f2"/>
<rect x="495.5" y="441.5" width="14.4" height="28.2" fill="url(#g1)"/>
<rect x="495.5" y="466.3" width="14.4" height="3.4" fill="url(#sh)"/>
<rect x="495.5" y="441.5" width="14.4" height="1.8" fill="#8c3533" opacity=".5"/>
<rect x="497.0" y="441.5" width="11.4" height=".8" fill="#f58486" opacity=".55"/>
<path d="M498.1 442.8L507.3 442.8L502.7 447.4Z" fill="#f58486"/>
<rect x="495.5" y="426.9" width="14.4" height="14.6" fill="url(#g2)"/>
<rect x="495.5" y="438.1" width="14.4" height="3.4" fill="url(#sh)"/>
<rect x="495.5" y="426.9" width="14.4" height="1.8" fill="#b86b22" opacity=".5"/>
<rect x="497.0" y="426.9" width="11.4" height=".8" fill="#ffcf63" opacity=".55"/>
<path d="M498.1 428.2L507.3 428.2L502.7 432.8Z" fill="#ffcf63"/>
<rect x="495.5" y="417.4" width="14.4" height="9.5" fill="url(#g3)"/>
<rect x="495.5" y="423.5" width="14.4" height="3.4" fill="url(#sh)"/>
<rect x="495.5" y="417.4" width="14.4" height="1.8" fill="#1c3558" opacity=".5"/>
<rect x="497.0" y="417.4" width="11.4" height=".8" fill="#5488cc" opacity=".55"/>
<path d="M498.1 418.7L507.3 418.7L502.7 423.3Z" fill="#5488cc"/>
<rect x="495.5" y="411.7" width="14.4" height="5.8" fill="url(#g4)"/>
<rect x="495.5" y="414.5" width="14.4" height="2.9" fill="url(#sh)"/>
<rect x="495.5" y="411.7" width="14.4" height="1.8" fill="#6c8835" opacity=".5"/>
<rect x="497.0" y="411.7" width="11.4" height=".8" fill="#cdf070" opacity=".55"/>
<path d="M498.1 413.0L507.3 413.0L502.7 417.5Z" fill="#cdf070"/>
<rect x="495.5" y="400.1" width="14.4" height="11.5" fill="url(#g5)"/>
<rect x="495.5" y="408.3" width="14.4" height="3.4" fill="url(#sh)"/>
<rect x="495.5" y="400.1" width="14.4" height="1.8" fill="#5a4278" opacity=".5"/>
<rect x="497.0" y="400.1" width="11.4" height=".8" fill="#b995e6" opacity=".55"/>
<path d="M498.1 401.4L507.3 401.4L502.7 406.0Z" fill="#b995e6"/>
<rect x="517.4" y="477.5" width="14.4" height="11.1" fill="url(#g0)"/>
<rect x="517.4" y="485.2" width="14.4" height="3.4" fill="url(#sh)"/>
<rect x="517.4" y="477.5" width="14.4" height="1.8" fill="#2f5688" opacity=".5"/>
<rect x="518.9" y="477.5" width="11.4" height=".8" fill="#7db4f2" opacity=".55"/>
<path d="M520.0 478.8L529.2 478.8L524.6 483.4Z" fill="#7db4f2"/>
<rect x="517.4" y="433.1" width="14.4" height="44.4" fill="url(#g1)"/>
<rect x="517.4" y="474.1" width="14.4" height="3.4" fill="url(#sh)"/>
<rect x="517.4" y="433.1" width="14.4" height="1.8" fill="#8c3533" opacity=".5"/>
<rect x="518.9" y="433.1" width="11.4" height=".8" fill="#f58486" opacity=".55"/>
<path d="M520.0 434.4L529.2 434.4L524.6 439.0Z" fill="#f58486"/>
<rect x="517.4" y="417.4" width="14.4" height="15.6" fill="url(#g2)"/>
<rect x="517.4" y="429.7" width="14.4" height="3.4" fill="url(#sh)"/>
<rect x="517.4" y="417.4" width="14.4" height="1.8" fill="#b86b22" opacity=".5"/>
<rect x="518.9" y="417.4" width="11.4" height=".8" fill="#ffcf63" opacity=".55"/>
<path d="M520.0 418.7L529.2 418.7L524.6 423.3Z" fill="#ffcf63"/>
<rect x="517.4" y="408.0" width="14.4" height="9.5" fill="url(#g3)"/>
<rect x="517.4" y="414.0" width="14.4" height="3.4" fill="url(#sh)"/>
<rect x="517.4" y="408.0" width="14.4" height="1.8" fill="#1c3558" opacity=".5"/>
<rect x="518.9" y="408.0" width="11.4" height=".8" fill="#5488cc" opacity=".55"/>
<path d="M520.0 409.3L529.2 409.3L524.6 413.9Z" fill="#5488cc"/>
<rect x="517.4" y="403.9" width="14.4" height="4.1" fill="url(#g4)"/>
<rect x="517.4" y="405.9" width="14.4" height="2.1" fill="url(#sh)"/>
<rect x="517.4" y="403.9" width="14.4" height="1.6" fill="#6c8835" opacity=".5"/>
<rect x="518.9" y="403.9" width="11.4" height=".8" fill="#cdf070" opacity=".55"/>
<path d="M520.0 405.2L529.2 405.2L524.6 408.1Z" fill="#cdf070"/>
<rect x="517.4" y="388.0" width="14.4" height="15.8" fill="url(#g5)"/>
<rect x="517.4" y="400.5" width="14.4" height="3.4" fill="url(#sh)"/>
<rect x="517.4" y="388.0" width="14.4" height="1.8" fill="#5a4278" opacity=".5"/>
<rect x="518.9" y="388.0" width="11.4" height=".8" fill="#b995e6" opacity=".55"/>
<path d="M520.0 389.3L529.2 389.3L524.6 393.9Z" fill="#b995e6"/>
<rect x="539.2" y="466.0" width="14.4" height="22.6" fill="url(#g0)"/>
<rect x="539.2" y="485.2" width="14.4" height="3.4" fill="url(#sh)"/>
<rect x="539.2" y="466.0" width="14.4" height="1.8" fill="#2f5688" opacity=".5"/>
<rect x="540.7" y="466.0" width="11.4" height=".8" fill="#7db4f2" opacity=".55"/>
<path d="M541.8 467.3L551.0 467.3L546.4 471.9Z" fill="#7db4f2"/>
<rect x="539.2" y="425.7" width="14.4" height="40.3" fill="url(#g1)"/>
<rect x="539.2" y="462.6" width="14.4" height="3.4" fill="url(#sh)"/>
<rect x="539.2" y="425.7" width="14.4" height="1.8" fill="#8c3533" opacity=".5"/>
<rect x="540.7" y="425.7" width="11.4" height=".8" fill="#f58486" opacity=".55"/>
<path d="M541.8 427.0L551.0 427.0L546.4 431.6Z" fill="#f58486"/>
<rect x="539.2" y="413.7" width="14.4" height="11.9" fill="url(#g2)"/>
<rect x="539.2" y="422.3" width="14.4" height="3.4" fill="url(#sh)"/>
<rect x="539.2" y="413.7" width="14.4" height="1.8" fill="#b86b22" opacity=".5"/>
<rect x="540.7" y="413.7" width="11.4" height=".8" fill="#ffcf63" opacity=".55"/>
<path d="M541.8 415.0L551.0 415.0L546.4 419.6Z" fill="#ffcf63"/>
<rect x="539.2" y="404.7" width="14.4" height="9.1" fill="url(#g3)"/>
<rect x="539.2" y="410.3" width="14.4" height="3.4" fill="url(#sh)"/>
<rect x="539.2" y="404.7" width="14.4" height="1.8" fill="#1c3558" opacity=".5"/>
<rect x="540.7" y="404.7" width="11.4" height=".8" fill="#5488cc" opacity=".55"/>
<path d="M541.8 406.0L551.0 406.0L546.4 410.6Z" fill="#5488cc"/>
<rect x="539.2" y="397.3" width="14.4" height="7.4" fill="url(#g4)"/>
<rect x="539.2" y="401.3" width="14.4" height="3.4" fill="url(#sh)"/>
<rect x="539.2" y="397.3" width="14.4" height="1.8" fill="#6c8835" opacity=".5"/>
<rect x="540.7" y="397.3" width="11.4" height=".8" fill="#cdf070" opacity=".55"/>
<path d="M541.8 398.6L551.0 398.6L546.4 403.2Z" fill="#cdf070"/>
<rect x="539.2" y="388.8" width="14.4" height="8.4" fill="url(#g5)"/>
<rect x="539.2" y="393.9" width="14.4" height="3.4" fill="url(#sh)"/>
<rect x="539.2" y="388.8" width="14.4" height="1.8" fill="#5a4278" opacity=".5"/>
<rect x="540.7" y="388.8" width="11.4" height=".8" fill="#b995e6" opacity=".55"/>
<path d="M541.8 390.1L551.0 390.1L546.4 394.7Z" fill="#b995e6"/>
<rect x="561.1" y="451.6" width="14.4" height="37.0" fill="url(#g0)"/>
<rect x="561.1" y="485.2" width="14.4" height="3.4" fill="url(#sh)"/>
<rect x="561.1" y="451.6" width="14.4" height="1.8" fill="#2f5688" opacity=".5"/>
<rect x="562.6" y="451.6" width="11.4" height=".8" fill="#7db4f2" opacity=".55"/>
<path d="M563.7 452.9L572.9 452.9L568.3 457.5Z" fill="#7db4f2"/>
<rect x="561.1" y="416.6" width="14.4" height="35.0" fill="url(#g1)"/>
<rect x="561.1" y="448.2" width="14.4" height="3.4" fill="url(#sh)"/>
<rect x="561.1" y="416.6" width="14.4" height="1.8" fill="#8c3533" opacity=".5"/>
<rect x="562.6" y="416.6" width="11.4" height=".8" fill="#f58486" opacity=".55"/>
<path d="M563.7 417.9L572.9 417.9L568.3 422.5Z" fill="#f58486"/>
<rect x="561.1" y="400.8" width="14.4" height="15.8" fill="url(#g2)"/>
<rect x="561.1" y="413.2" width="14.4" height="3.4" fill="url(#sh)"/>
<rect x="561.1" y="400.8" width="14.4" height="1.8" fill="#b86b22" opacity=".5"/>
<rect x="562.6" y="400.8" width="11.4" height=".8" fill="#ffcf63" opacity=".55"/>
<path d="M563.7 402.1L572.9 402.1L568.3 406.7Z" fill="#ffcf63"/>
<rect x="561.1" y="387.6" width="14.4" height="13.2" fill="url(#g3)"/>
<rect x="561.1" y="397.4" width="14.4" height="3.4" fill="url(#sh)"/>
<rect x="561.1" y="387.6" width="14.4" height="1.8" fill="#1c3558" opacity=".5"/>
<rect x="562.6" y="387.6" width="11.4" height=".8" fill="#5488cc" opacity=".55"/>
<path d="M563.7 388.9L572.9 388.9L568.3 393.5Z" fill="#5488cc"/>
<rect x="561.1" y="377.5" width="14.4" height="10.0" fill="url(#g4)"/>
<rect x="561.1" y="384.2" width="14.4" height="3.4" fill="url(#sh)"/>
<rect x="561.1" y="377.5" width="14.4" height="1.8" fill="#6c8835" opacity=".5"/>
<rect x="562.6" y="377.5" width="11.4" height=".8" fill="#cdf070" opacity=".55"/>
<path d="M563.7 378.8L572.9 378.8L568.3 383.4Z" fill="#cdf070"/>
<rect x="561.1" y="363.3" width="14.4" height="14.2" fill="url(#g5)"/>
<rect x="561.1" y="374.1" width="14.4" height="3.4" fill="url(#sh)"/>
<rect x="561.1" y="363.3" width="14.4" height="1.8" fill="#5a4278" opacity=".5"/>
<rect x="562.6" y="363.3" width="11.4" height=".8" fill="#b995e6" opacity=".55"/>
<path d="M563.7 364.6L572.9 364.6L568.3 369.2Z" fill="#b995e6"/>
<rect x="583.0" y="475.6" width="14.4" height="13.0" fill="url(#g0)"/>
<rect x="583.0" y="485.2" width="14.4" height="3.4" fill="url(#sh)"/>
<rect x="583.0" y="475.6" width="14.4" height="1.8" fill="#2f5688" opacity=".5"/>
<rect x="584.5" y="475.6" width="11.4" height=".8" fill="#7db4f2" opacity=".55"/>
<path d="M585.6 476.9L594.8 476.9L590.2 481.5Z" fill="#7db4f2"/>
<rect x="583.0" y="429.4" width="14.4" height="46.3" fill="url(#g1)"/>
<rect x="583.0" y="472.2" width="14.4" height="3.4" fill="url(#sh)"/>
<rect x="583.0" y="429.4" width="14.4" height="1.8" fill="#8c3533" opacity=".5"/>
<rect x="584.5" y="429.4" width="11.4" height=".8" fill="#f58486" opacity=".55"/>
<path d="M585.6 430.7L594.8 430.7L590.2 435.3Z" fill="#f58486"/>
<rect x="583.0" y="413.3" width="14.4" height="16.0" fill="url(#g2)"/>
<rect x="583.0" y="426.0" width="14.4" height="3.4" fill="url(#sh)"/>
<rect x="583.0" y="413.3" width="14.4" height="1.8" fill="#b86b22" opacity=".5"/>
<rect x="584.5" y="413.3" width="11.4" height=".8" fill="#ffcf63" opacity=".55"/>
<path d="M585.6 414.6L594.8 414.6L590.2 419.2Z" fill="#ffcf63"/>
<rect x="583.0" y="400.1" width="14.4" height="13.2" fill="url(#g3)"/>
<rect x="583.0" y="409.9" width="14.4" height="3.4" fill="url(#sh)"/>
<rect x="583.0" y="400.1" width="14.4" height="1.8" fill="#1c3558" opacity=".5"/>
<rect x="584.5" y="400.1" width="11.4" height=".8" fill="#5488cc" opacity=".55"/>
<path d="M585.6 401.4L594.8 401.4L590.2 406.0Z" fill="#5488cc"/>
<rect x="583.0" y="394.0" width="14.4" height="6.2" fill="url(#g4)"/>
<rect x="583.0" y="397.1" width="14.4" height="3.1" fill="url(#sh)"/>
<rect x="583.0" y="394.0" width="14.4" height="1.8" fill="#6c8835" opacity=".5"/>
<rect x="584.5" y="394.0" width="11.4" height=".8" fill="#cdf070" opacity=".55"/>
<path d="M585.6 395.3L594.8 395.3L590.2 399.9Z" fill="#cdf070"/>
<rect x="583.0" y="384.3" width="14.4" height="9.7" fill="url(#g5)"/>
<rect x="583.0" y="390.6" width="14.4" height="3.4" fill="url(#sh)"/>
<rect x="583.0" y="384.3" width="14.4" height="1.8" fill="#5a4278" opacity=".5"/>
<rect x="584.5" y="384.3" width="11.4" height=".8" fill="#b995e6" opacity=".55"/>
<path d="M585.6 385.6L594.8 385.6L590.2 390.2Z" fill="#b995e6"/>
<rect x="604.8" y="481.6" width="14.4" height="7.0" fill="url(#g0)"/>
<rect x="604.8" y="485.2" width="14.4" height="3.4" fill="url(#sh)"/>
<rect x="604.8" y="481.6" width="14.4" height="1.8" fill="#2f5688" opacity=".5"/>
<rect x="606.3" y="481.6" width="11.4" height=".8" fill="#7db4f2" opacity=".55"/>
<path d="M607.4 482.9L616.6 482.9L612.0 487.5Z" fill="#7db4f2"/>
<rect x="604.8" y="437.8" width="14.4" height="43.9" fill="url(#g1)"/>
<rect x="604.8" y="478.2" width="14.4" height="3.4" fill="url(#sh)"/>
<rect x="604.8" y="437.8" width="14.4" height="1.8" fill="#8c3533" opacity=".5"/>
<rect x="606.3" y="437.8" width="11.4" height=".8" fill="#f58486" opacity=".55"/>
<path d="M607.4 439.1L616.6 439.1L612.0 443.7Z" fill="#f58486"/>
<rect x="604.8" y="423.2" width="14.4" height="14.6" fill="url(#g2)"/>
<rect x="604.8" y="434.4" width="14.4" height="3.4" fill="url(#sh)"/>
<rect x="604.8" y="423.2" width="14.4" height="1.8" fill="#b86b22" opacity=".5"/>
<rect x="606.3" y="423.2" width="11.4" height=".8" fill="#ffcf63" opacity=".55"/>
<path d="M607.4 424.5L616.6 424.5L612.0 429.1Z" fill="#ffcf63"/>
<rect x="604.8" y="411.7" width="14.4" height="11.5" fill="url(#g3)"/>
<rect x="604.8" y="419.8" width="14.4" height="3.4" fill="url(#sh)"/>
<rect x="604.8" y="411.7" width="14.4" height="1.8" fill="#1c3558" opacity=".5"/>
<rect x="606.3" y="411.7" width="11.4" height=".8" fill="#5488cc" opacity=".55"/>
<path d="M607.4 413.0L616.6 413.0L612.0 417.6Z" fill="#5488cc"/>
<rect x="604.8" y="407.3" width="14.4" height="4.3" fill="url(#g4)"/>
<rect x="604.8" y="409.5" width="14.4" height="2.2" fill="url(#sh)"/>
<rect x="604.8" y="407.3" width="14.4" height="1.7" fill="#6c8835" opacity=".5"/>
<rect x="606.3" y="407.3" width="11.4" height=".8" fill="#cdf070" opacity=".55"/>
<path d="M607.4 408.6L616.6 408.6L612.0 411.8Z" fill="#cdf070"/>
<rect x="604.8" y="391.9" width="14.4" height="15.4" fill="url(#g5)"/>
<rect x="604.8" y="403.9" width="14.4" height="3.4" fill="url(#sh)"/>
<rect x="604.8" y="391.9" width="14.4" height="1.8" fill="#5a4278" opacity=".5"/>
<rect x="606.3" y="391.9" width="11.4" height=".8" fill="#b995e6" opacity=".55"/>
<path d="M607.4 393.2L616.6 393.2L612.0 397.8Z" fill="#b995e6"/>
<rect x="626.7" y="480.8" width="14.4" height="7.8" fill="url(#g0)"/>
<rect x="626.7" y="485.2" width="14.4" height="3.4" fill="url(#sh)"/>
<rect x="626.7" y="480.8" width="14.4" height="1.8" fill="#2f5688" opacity=".5"/>
<rect x="628.2" y="480.8" width="11.4" height=".8" fill="#7db4f2" opacity=".55"/>
<path d="M629.3 482.1L638.5 482.1L633.9 486.7Z" fill="#7db4f2"/>
<rect x="626.7" y="450.9" width="14.4" height="29.9" fill="url(#g1)"/>
<rect x="626.7" y="477.4" width="14.4" height="3.4" fill="url(#sh)"/>
<rect x="626.7" y="450.9" width="14.4" height="1.8" fill="#8c3533" opacity=".5"/>
<rect x="628.2" y="450.9" width="11.4" height=".8" fill="#f58486" opacity=".55"/>
<path d="M629.3 452.2L638.5 452.2L633.9 456.8Z" fill="#f58486"/>
<rect x="626.7" y="433.9" width="14.4" height="17.0" fill="url(#g2)"/>
<rect x="626.7" y="447.5" width="14.4" height="3.4" fill="url(#sh)"/>
<rect x="626.7" y="433.9" width="14.4" height="1.8" fill="#b86b22" opacity=".5"/>
<rect x="628.2" y="433.9" width="11.4" height=".8" fill="#ffcf63" opacity=".55"/>
<path d="M629.3 435.2L638.5 435.2L633.9 439.8Z" fill="#ffcf63"/>
<rect x="626.7" y="417.6" width="14.4" height="16.3" fill="url(#g3)"/>
<rect x="626.7" y="430.5" width="14.4" height="3.4" fill="url(#sh)"/>
<rect x="626.7" y="417.6" width="14.4" height="1.8" fill="#1c3558" opacity=".5"/>
<rect x="628.2" y="417.6" width="11.4" height=".8" fill="#5488cc" opacity=".55"/>
<path d="M629.3 418.9L638.5 418.9L633.9 423.5Z" fill="#5488cc"/>
<rect x="626.7" y="412.9" width="14.4" height="4.7" fill="url(#g4)"/>
<rect x="626.7" y="415.2" width="14.4" height="2.3" fill="url(#sh)"/>
<rect x="626.7" y="412.9" width="14.4" height="1.8" fill="#6c8835" opacity=".5"/>
<rect x="628.2" y="412.9" width="11.4" height=".8" fill="#cdf070" opacity=".55"/>
<path d="M629.3 414.2L638.5 414.2L633.9 417.7Z" fill="#cdf070"/>
<rect x="626.7" y="391.9" width="14.4" height="21.0" fill="url(#g5)"/>
<rect x="626.7" y="409.5" width="14.4" height="3.4" fill="url(#sh)"/>
<rect x="626.7" y="391.9" width="14.4" height="1.8" fill="#5a4278" opacity=".5"/>
<rect x="628.2" y="391.9" width="11.4" height=".8" fill="#b995e6" opacity=".55"/>
<path d="M629.3 393.2L638.5 393.2L633.9 397.8Z" fill="#b995e6"/>
<rect x="648.5" y="476.5" width="14.4" height="12.1" fill="url(#g0)"/>
<rect x="648.5" y="485.2" width="14.4" height="3.4" fill="url(#sh)"/>
<rect x="648.5" y="476.5" width="14.4" height="1.8" fill="#2f5688" opacity=".5"/>
<rect x="650.0" y="476.5" width="11.4" height=".8" fill="#7db4f2" opacity=".55"/>
<path d="M651.1 477.8L660.3 477.8L655.7 482.4Z" fill="#7db4f2"/>
<rect x="648.5" y="425.2" width="14.4" height="51.2" fill="url(#g1)"/>
<rect x="648.5" y="473.1" width="14.4" height="3.4" fill="url(#sh)"/>
<rect x="648.5" y="425.2" width="14.4" height="1.8" fill="#8c3533" opacity=".5"/>
<rect x="650.0" y="425.2" width="11.4" height=".8" fill="#f58486" opacity=".55"/>
<path d="M651.1 426.5L660.3 426.5L655.7 431.1Z" fill="#f58486"/>
<rect x="648.5" y="408.4" width="14.4" height="16.9" fill="url(#g2)"/>
<rect x="648.5" y="421.8" width="14.4" height="3.4" fill="url(#sh)"/>
<rect x="648.5" y="408.4" width="14.4" height="1.8" fill="#b86b22" opacity=".5"/>
<rect x="650.0" y="408.4" width="11.4" height=".8" fill="#ffcf63" opacity=".55"/>
<path d="M651.1 409.7L660.3 409.7L655.7 414.3Z" fill="#ffcf63"/>
<rect x="648.5" y="387.4" width="14.4" height="21.0" fill="url(#g3)"/>
<rect x="648.5" y="405.0" width="14.4" height="3.4" fill="url(#sh)"/>
<rect x="648.5" y="387.4" width="14.4" height="1.8" fill="#1c3558" opacity=".5"/>
<rect x="650.0" y="387.4" width="11.4" height=".8" fill="#5488cc" opacity=".55"/>
<path d="M651.1 388.7L660.3 388.7L655.7 393.3Z" fill="#5488cc"/>
<rect x="648.5" y="377.9" width="14.4" height="9.5" fill="url(#g4)"/>
<rect x="648.5" y="384.0" width="14.4" height="3.4" fill="url(#sh)"/>
<rect x="648.5" y="377.9" width="14.4" height="1.8" fill="#6c8835" opacity=".5"/>
<rect x="650.0" y="377.9" width="11.4" height=".8" fill="#cdf070" opacity=".55"/>
<path d="M651.1 379.2L660.3 379.2L655.7 383.8Z" fill="#cdf070"/>
<rect x="648.5" y="364.8" width="14.4" height="13.2" fill="url(#g5)"/>
<rect x="648.5" y="374.5" width="14.4" height="3.4" fill="url(#sh)"/>
<rect x="648.5" y="364.8" width="14.4" height="1.8" fill="#5a4278" opacity=".5"/>
<rect x="650.0" y="364.8" width="11.4" height=".8" fill="#b995e6" opacity=".55"/>
<path d="M651.1 366.1L660.3 366.1L655.7 370.7Z" fill="#b995e6"/>
<rect x="670.4" y="471.9" width="14.4" height="16.7" fill="url(#g0)"/>
<rect x="670.4" y="485.2" width="14.4" height="3.4" fill="url(#sh)"/>
<rect x="670.4" y="471.9" width="14.4" height="1.8" fill="#2f5688" opacity=".5"/>
<rect x="671.9" y="471.9" width="11.4" height=".8" fill="#7db4f2" opacity=".55"/>
<path d="M673.0 473.2L682.2 473.2L677.6 477.8Z" fill="#7db4f2"/>
<rect x="670.4" y="429.4" width="14.4" height="42.5" fill="url(#g1)"/>
<rect x="670.4" y="468.5" width="14.4" height="3.4" fill="url(#sh)"/>
<rect x="670.4" y="429.4" width="14.4" height="1.8" fill="#8c3533" opacity=".5"/>
<rect x="671.9" y="429.4" width="11.4" height=".8" fill="#f58486" opacity=".55"/>
<path d="M673.0 430.7L682.2 430.7L677.6 435.3Z" fill="#f58486"/>
<rect x="670.4" y="406.5" width="14.4" height="22.9" fill="url(#g2)"/>
<rect x="670.4" y="426.0" width="14.4" height="3.4" fill="url(#sh)"/>
<rect x="670.4" y="406.5" width="14.4" height="1.8" fill="#b86b22" opacity=".5"/>
<rect x="671.9" y="406.5" width="11.4" height=".8" fill="#ffcf63" opacity=".55"/>
<path d="M673.0 407.8L682.2 407.8L677.6 412.4Z" fill="#ffcf63"/>
<rect x="670.4" y="383.3" width="14.4" height="23.2" fill="url(#g3)"/>
<rect x="670.4" y="403.1" width="14.4" height="3.4" fill="url(#sh)"/>
<rect x="670.4" y="383.3" width="14.4" height="1.8" fill="#1c3558" opacity=".5"/>
<rect x="671.9" y="383.3" width="11.4" height=".8" fill="#5488cc" opacity=".55"/>
<path d="M673.0 384.6L682.2 384.6L677.6 389.2Z" fill="#5488cc"/>
<rect x="670.4" y="377.9" width="14.4" height="5.3" fill="url(#g4)"/>
<rect x="670.4" y="380.6" width="14.4" height="2.7" fill="url(#sh)"/>
<rect x="670.4" y="377.9" width="14.4" height="1.8" fill="#6c8835" opacity=".5"/>
<rect x="671.9" y="377.9" width="11.4" height=".8" fill="#cdf070" opacity=".55"/>
<path d="M673.0 379.2L682.2 379.2L677.6 383.4Z" fill="#cdf070"/>
<rect x="670.4" y="357.2" width="14.4" height="20.8" fill="url(#g5)"/>
<rect x="670.4" y="374.5" width="14.4" height="3.4" fill="url(#sh)"/>
<rect x="670.4" y="357.2" width="14.4" height="1.8" fill="#5a4278" opacity=".5"/>
<rect x="671.9" y="357.2" width="11.4" height=".8" fill="#b995e6" opacity=".55"/>
<path d="M673.0 358.5L682.2 358.5L677.6 363.1Z" fill="#b995e6"/>
<rect x="692.3" y="481.6" width="14.4" height="7.0" fill="url(#g0)"/>
<rect x="692.3" y="485.2" width="14.4" height="3.4" fill="url(#sh)"/>
<rect x="692.3" y="481.6" width="14.4" height="1.8" fill="#2f5688" opacity=".5"/>
<rect x="693.8" y="481.6" width="11.4" height=".8" fill="#7db4f2" opacity=".55"/>
<path d="M694.9 482.9L704.1 482.9L699.5 487.5Z" fill="#7db4f2"/>
<rect x="692.3" y="428.3" width="14.4" height="53.3" fill="url(#g1)"/>
<rect x="692.3" y="478.2" width="14.4" height="3.4" fill="url(#sh)"/>
<rect x="692.3" y="428.3" width="14.4" height="1.8" fill="#8c3533" opacity=".5"/>
<rect x="693.8" y="428.3" width="11.4" height=".8" fill="#f58486" opacity=".55"/>
<path d="M694.9 429.6L704.1 429.6L699.5 434.2Z" fill="#f58486"/>
<rect x="692.3" y="408.4" width="14.4" height="20.0" fill="url(#g2)"/>
<rect x="692.3" y="424.9" width="14.4" height="3.4" fill="url(#sh)"/>
<rect x="692.3" y="408.4" width="14.4" height="1.8" fill="#b86b22" opacity=".5"/>
<rect x="693.8" y="408.4" width="11.4" height=".8" fill="#ffcf63" opacity=".55"/>
<path d="M694.9 409.7L704.1 409.7L699.5 414.3Z" fill="#ffcf63"/>
<rect x="692.3" y="391.1" width="14.4" height="17.3" fill="url(#g3)"/>
<rect x="692.3" y="405.0" width="14.4" height="3.4" fill="url(#sh)"/>
<rect x="692.3" y="391.1" width="14.4" height="1.8" fill="#1c3558" opacity=".5"/>
<rect x="693.8" y="391.1" width="11.4" height=".8" fill="#5488cc" opacity=".55"/>
<path d="M694.9 392.4L704.1 392.4L699.5 397.0Z" fill="#5488cc"/>
<rect x="692.3" y="385.3" width="14.4" height="5.8" fill="url(#g4)"/>
<rect x="692.3" y="388.2" width="14.4" height="2.9" fill="url(#sh)"/>
<rect x="692.3" y="385.3" width="14.4" height="1.8" fill="#6c8835" opacity=".5"/>
<rect x="693.8" y="385.3" width="11.4" height=".8" fill="#cdf070" opacity=".55"/>
<path d="M694.9 386.6L704.1 386.6L699.5 391.2Z" fill="#cdf070"/>
<rect x="692.3" y="363.9" width="14.4" height="21.4" fill="url(#g5)"/>
<rect x="692.3" y="381.9" width="14.4" height="3.4" fill="url(#sh)"/>
<rect x="692.3" y="363.9" width="14.4" height="1.8" fill="#5a4278" opacity=".5"/>
<rect x="693.8" y="363.9" width="11.4" height=".8" fill="#b995e6" opacity=".55"/>
<path d="M694.9 365.2L704.1 365.2L699.5 369.8Z" fill="#b995e6"/>
<rect x="714.1" y="468.4" width="14.4" height="20.2" fill="url(#g0)"/>
<rect x="714.1" y="485.2" width="14.4" height="3.4" fill="url(#sh)"/>
<rect x="714.1" y="468.4" width="14.4" height="1.8" fill="#2f5688" opacity=".5"/>
<rect x="715.6" y="468.4" width="11.4" height=".8" fill="#7db4f2" opacity=".55"/>
<path d="M716.7 469.7L725.9 469.7L721.3 474.3Z" fill="#7db4f2"/>
<rect x="714.1" y="426.1" width="14.4" height="42.4" fill="url(#g1)"/>
<rect x="714.1" y="465.0" width="14.4" height="3.4" fill="url(#sh)"/>
<rect x="714.1" y="426.1" width="14.4" height="1.8" fill="#8c3533" opacity=".5"/>
<rect x="715.6" y="426.1" width="11.4" height=".8" fill="#f58486" opacity=".55"/>
<path d="M716.7 427.4L725.9 427.4L721.3 432.0Z" fill="#f58486"/>
<rect x="714.1" y="400.8" width="14.4" height="25.3" fill="url(#g2)"/>
<rect x="714.1" y="422.7" width="14.4" height="3.4" fill="url(#sh)"/>
<rect x="714.1" y="400.8" width="14.4" height="1.8" fill="#b86b22" opacity=".5"/>
<rect x="715.6" y="400.8" width="11.4" height=".8" fill="#ffcf63" opacity=".55"/>
<path d="M716.7 402.1L725.9 402.1L721.3 406.7Z" fill="#ffcf63"/>
<rect x="714.1" y="375.5" width="14.4" height="25.3" fill="url(#g3)"/>
<rect x="714.1" y="397.4" width="14.4" height="3.4" fill="url(#sh)"/>
<rect x="714.1" y="375.5" width="14.4" height="1.8" fill="#1c3558" opacity=".5"/>
<rect x="715.6" y="375.5" width="11.4" height=".8" fill="#5488cc" opacity=".55"/>
<path d="M716.7 376.8L725.9 376.8L721.3 381.4Z" fill="#5488cc"/>
<rect x="714.1" y="345.4" width="14.4" height="30.0" fill="url(#g4)"/>
<rect x="714.1" y="372.1" width="14.4" height="3.4" fill="url(#sh)"/>
<rect x="714.1" y="345.4" width="14.4" height="1.8" fill="#6c8835" opacity=".5"/>
<rect x="715.6" y="345.4" width="11.4" height=".8" fill="#cdf070" opacity=".55"/>
<path d="M716.7 346.7L725.9 346.7L721.3 351.3Z" fill="#cdf070"/>
<rect x="714.1" y="323.0" width="14.4" height="22.4" fill="url(#g5)"/>
<rect x="714.1" y="342.0" width="14.4" height="3.4" fill="url(#sh)"/>
<rect x="714.1" y="323.0" width="14.4" height="1.8" fill="#5a4278" opacity=".5"/>
<rect x="715.6" y="323.0" width="11.4" height=".8" fill="#b995e6" opacity=".55"/>
<path d="M716.7 324.3L725.9 324.3L721.3 328.9Z" fill="#b995e6"/>
<rect x="736.0" y="475.0" width="14.4" height="13.6" fill="url(#g0)"/>
<rect x="736.0" y="485.2" width="14.4" height="3.4" fill="url(#sh)"/>
<rect x="736.0" y="475.0" width="14.4" height="1.8" fill="#2f5688" opacity=".5"/>
<rect x="737.5" y="475.0" width="11.4" height=".8" fill="#7db4f2" opacity=".55"/>
<path d="M738.6 476.3L747.8 476.3L743.2 480.9Z" fill="#7db4f2"/>
<rect x="736.0" y="429.8" width="14.4" height="45.3" fill="url(#g1)"/>
<rect x="736.0" y="471.6" width="14.4" height="3.4" fill="url(#sh)"/>
<rect x="736.0" y="429.8" width="14.4" height="1.8" fill="#8c3533" opacity=".5"/>
<rect x="737.5" y="429.8" width="11.4" height=".8" fill="#f58486" opacity=".55"/>
<path d="M738.6 431.1L747.8 431.1L743.2 435.7Z" fill="#f58486"/>
<rect x="736.0" y="399.9" width="14.4" height="29.8" fill="url(#g2)"/>
<rect x="736.0" y="426.4" width="14.4" height="3.4" fill="url(#sh)"/>
<rect x="736.0" y="399.9" width="14.4" height="1.8" fill="#b86b22" opacity=".5"/>
<rect x="737.5" y="399.9" width="11.4" height=".8" fill="#ffcf63" opacity=".55"/>
<path d="M738.6 401.2L747.8 401.2L743.2 405.8Z" fill="#ffcf63"/>
<rect x="736.0" y="373.2" width="14.4" height="26.7" fill="url(#g3)"/>
<rect x="736.0" y="396.5" width="14.4" height="3.4" fill="url(#sh)"/>
<rect x="736.0" y="373.2" width="14.4" height="1.8" fill="#1c3558" opacity=".5"/>
<rect x="737.5" y="373.2" width="11.4" height=".8" fill="#5488cc" opacity=".55"/>
<path d="M738.6 374.5L747.8 374.5L743.2 379.1Z" fill="#5488cc"/>
<rect x="736.0" y="343.8" width="14.4" height="29.4" fill="url(#g4)"/>
<rect x="736.0" y="369.8" width="14.4" height="3.4" fill="url(#sh)"/>
<rect x="736.0" y="343.8" width="14.4" height="1.8" fill="#6c8835" opacity=".5"/>
<rect x="737.5" y="343.8" width="11.4" height=".8" fill="#cdf070" opacity=".55"/>
<path d="M738.6 345.1L747.8 345.1L743.2 349.7Z" fill="#cdf070"/>
<rect x="736.0" y="319.5" width="14.4" height="24.3" fill="url(#g5)"/>
<rect x="736.0" y="340.4" width="14.4" height="3.4" fill="url(#sh)"/>
<rect x="736.0" y="319.5" width="14.4" height="1.8" fill="#5a4278" opacity=".5"/>
<rect x="737.5" y="319.5" width="11.4" height=".8" fill="#b995e6" opacity=".55"/>
<path d="M738.6 320.8L747.8 320.8L743.2 325.4Z" fill="#b995e6"/>
<rect x="757.8" y="472.1" width="14.4" height="16.5" fill="url(#g0)"/>
<rect x="757.8" y="485.2" width="14.4" height="3.4" fill="url(#sh)"/>
<rect x="757.8" y="472.1" width="14.4" height="1.8" fill="#2f5688" opacity=".5"/>
<rect x="759.3" y="472.1" width="11.4" height=".8" fill="#7db4f2" opacity=".55"/>
<path d="M760.4 473.4L769.6 473.4L765.0 478.0Z" fill="#7db4f2"/>
<rect x="757.8" y="409.2" width="14.4" height="62.9" fill="url(#g1)"/>
<rect x="757.8" y="468.7" width="14.4" height="3.4" fill="url(#sh)"/>
<rect x="757.8" y="409.2" width="14.4" height="1.8" fill="#8c3533" opacity=".5"/>
<rect x="759.3" y="409.2" width="11.4" height=".8" fill="#f58486" opacity=".55"/>
<path d="M760.4 410.5L769.6 410.5L765.0 415.1Z" fill="#f58486"/>
<rect x="757.8" y="382.3" width="14.4" height="26.9" fill="url(#g2)"/>
<rect x="757.8" y="405.8" width="14.4" height="3.4" fill="url(#sh)"/>
<rect x="757.8" y="382.3" width="14.4" height="1.8" fill="#b86b22" opacity=".5"/>
<rect x="759.3" y="382.3" width="11.4" height=".8" fill="#ffcf63" opacity=".55"/>
<path d="M760.4 383.6L769.6 383.6L765.0 388.2Z" fill="#ffcf63"/>
<rect x="757.8" y="356.1" width="14.4" height="26.1" fill="url(#g3)"/>
<rect x="757.8" y="378.9" width="14.4" height="3.4" fill="url(#sh)"/>
<rect x="757.8" y="356.1" width="14.4" height="1.8" fill="#1c3558" opacity=".5"/>
<rect x="759.3" y="356.1" width="11.4" height=".8" fill="#5488cc" opacity=".55"/>
<path d="M760.4 357.4L769.6 357.4L765.0 362.0Z" fill="#5488cc"/>
<rect x="757.8" y="341.3" width="14.4" height="14.8" fill="url(#g4)"/>
<rect x="757.8" y="352.7" width="14.4" height="3.4" fill="url(#sh)"/>
<rect x="757.8" y="341.3" width="14.4" height="1.8" fill="#6c8835" opacity=".5"/>
<rect x="759.3" y="341.3" width="11.4" height=".8" fill="#cdf070" opacity=".55"/>
<path d="M760.4 342.6L769.6 342.6L765.0 347.2Z" fill="#cdf070"/>
<rect x="757.8" y="325.1" width="14.4" height="16.3" fill="url(#g5)"/>
<rect x="757.8" y="337.9" width="14.4" height="3.4" fill="url(#sh)"/>
<rect x="757.8" y="325.1" width="14.4" height="1.8" fill="#5a4278" opacity=".5"/>
<rect x="759.3" y="325.1" width="11.4" height=".8" fill="#b995e6" opacity=".55"/>
<path d="M760.4 326.4L769.6 326.4L765.0 331.0Z" fill="#b995e6"/>
<rect x="779.7" y="477.9" width="14.4" height="10.7" fill="url(#g0)"/>
<rect x="779.7" y="485.2" width="14.4" height="3.4" fill="url(#sh)"/>
<rect x="779.7" y="477.9" width="14.4" height="1.8" fill="#2f5688" opacity=".5"/>
<rect x="781.2" y="477.9" width="11.4" height=".8" fill="#7db4f2" opacity=".55"/>
<path d="M782.3 479.2L791.5 479.2L786.9 483.8Z" fill="#7db4f2"/>
<rect x="779.7" y="436.4" width="14.4" height="41.6" fill="url(#g1)"/>
<rect x="779.7" y="474.5" width="14.4" height="3.4" fill="url(#sh)"/>
<rect x="779.7" y="436.4" width="14.4" height="1.8" fill="#8c3533" opacity=".5"/>
<rect x="781.2" y="436.4" width="11.4" height=".8" fill="#f58486" opacity=".55"/>
<path d="M782.3 437.7L791.5 437.7L786.9 442.3Z" fill="#f58486"/>
<rect x="779.7" y="409.2" width="14.4" height="27.2" fill="url(#g2)"/>
<rect x="779.7" y="433.0" width="14.4" height="3.4" fill="url(#sh)"/>
<rect x="779.7" y="409.2" width="14.4" height="1.8" fill="#b86b22" opacity=".5"/>
<rect x="781.2" y="409.2" width="11.4" height=".8" fill="#ffcf63" opacity=".55"/>
<path d="M782.3 410.5L791.5 410.5L786.9 415.1Z" fill="#ffcf63"/>
<rect x="779.7" y="388.6" width="14.4" height="20.6" fill="url(#g3)"/>
<rect x="779.7" y="405.8" width="14.4" height="3.4" fill="url(#sh)"/>
<rect x="779.7" y="388.6" width="14.4" height="1.8" fill="#1c3558" opacity=".5"/>
<rect x="781.2" y="388.6" width="11.4" height=".8" fill="#5488cc" opacity=".55"/>
<path d="M782.3 389.9L791.5 389.9L786.9 394.5Z" fill="#5488cc"/>
<rect x="779.7" y="364.8" width="14.4" height="23.9" fill="url(#g4)"/>
<rect x="779.7" y="385.2" width="14.4" height="3.4" fill="url(#sh)"/>
<rect x="779.7" y="364.8" width="14.4" height="1.8" fill="#6c8835" opacity=".5"/>
<rect x="781.2" y="364.8" width="11.4" height=".8" fill="#cdf070" opacity=".55"/>
<path d="M782.3 366.1L791.5 366.1L786.9 370.7Z" fill="#cdf070"/>
<rect x="779.7" y="338.4" width="14.4" height="26.3" fill="url(#g5)"/>
<rect x="779.7" y="361.4" width="14.4" height="3.4" fill="url(#sh)"/>
<rect x="779.7" y="338.4" width="14.4" height="1.8" fill="#5a4278" opacity=".5"/>
<rect x="781.2" y="338.4" width="11.4" height=".8" fill="#b995e6" opacity=".55"/>
<path d="M782.3 339.7L791.5 339.7L786.9 344.3Z" fill="#b995e6"/>
<rect x="801.6" y="458.2" width="14.4" height="30.4" fill="url(#g0)"/>
<rect x="801.6" y="485.2" width="14.4" height="3.4" fill="url(#sh)"/>
<rect x="801.6" y="458.2" width="14.4" height="1.8" fill="#2f5688" opacity=".5"/>
<rect x="803.1" y="458.2" width="11.4" height=".8" fill="#7db4f2" opacity=".55"/>
<path d="M804.2 459.5L813.4 459.5L808.8 464.1Z" fill="#7db4f2"/>
<rect x="801.6" y="420.3" width="14.4" height="37.8" fill="url(#g1)"/>
<rect x="801.6" y="454.8" width="14.4" height="3.4" fill="url(#sh)"/>
<rect x="801.6" y="420.3" width="14.4" height="1.8" fill="#8c3533" opacity=".5"/>
<rect x="803.1" y="420.3" width="11.4" height=".8" fill="#f58486" opacity=".55"/>
<path d="M804.2 421.6L813.4 421.6L808.8 426.2Z" fill="#f58486"/>
<rect x="801.6" y="385.8" width="14.4" height="34.6" fill="url(#g2)"/>
<rect x="801.6" y="416.9" width="14.4" height="3.4" fill="url(#sh)"/>
<rect x="801.6" y="385.8" width="14.4" height="1.8" fill="#b86b22" opacity=".5"/>
<rect x="803.1" y="385.8" width="11.4" height=".8" fill="#ffcf63" opacity=".55"/>
<path d="M804.2 387.1L813.4 387.1L808.8 391.7Z" fill="#ffcf63"/>
<rect x="801.6" y="354.9" width="14.4" height="30.9" fill="url(#g3)"/>
<rect x="801.6" y="382.4" width="14.4" height="3.4" fill="url(#sh)"/>
<rect x="801.6" y="354.9" width="14.4" height="1.8" fill="#1c3558" opacity=".5"/>
<rect x="803.1" y="354.9" width="11.4" height=".8" fill="#5488cc" opacity=".55"/>
<path d="M804.2 356.2L813.4 356.2L808.8 360.8Z" fill="#5488cc"/>
<rect x="801.6" y="308.8" width="14.4" height="46.1" fill="url(#g4)"/>
<rect x="801.6" y="351.5" width="14.4" height="3.4" fill="url(#sh)"/>
<rect x="801.6" y="308.8" width="14.4" height="1.8" fill="#6c8835" opacity=".5"/>
<rect x="803.1" y="308.8" width="11.4" height=".8" fill="#cdf070" opacity=".55"/>
<path d="M804.2 310.1L813.4 310.1L808.8 314.7Z" fill="#cdf070"/>
<rect x="801.6" y="286.7" width="14.4" height="22.1" fill="url(#g5)"/>
<rect x="801.6" y="305.4" width="14.4" height="3.4" fill="url(#sh)"/>
<rect x="801.6" y="286.7" width="14.4" height="1.8" fill="#5a4278" opacity=".5"/>
<rect x="803.1" y="286.7" width="11.4" height=".8" fill="#b995e6" opacity=".55"/>
<path d="M804.2 288.0L813.4 288.0L808.8 292.6Z" fill="#b995e6"/>
<rect x="823.4" y="435.1" width="14.4" height="53.5" fill="url(#g0)"/>
<rect x="823.4" y="485.2" width="14.4" height="3.4" fill="url(#sh)"/>
<rect x="823.4" y="435.1" width="14.4" height="1.8" fill="#2f5688" opacity=".5"/>
<rect x="824.9" y="435.1" width="11.4" height=".8" fill="#7db4f2" opacity=".55"/>
<path d="M826.0 436.4L835.2 436.4L830.6 441.0Z" fill="#7db4f2"/>
<rect x="823.4" y="410.0" width="14.4" height="25.1" fill="url(#g1)"/>
<rect x="823.4" y="431.7" width="14.4" height="3.4" fill="url(#sh)"/>
<rect x="823.4" y="410.0" width="14.4" height="1.8" fill="#8c3533" opacity=".5"/>
<rect x="824.9" y="410.0" width="11.4" height=".8" fill="#f58486" opacity=".55"/>
<path d="M826.0 411.3L835.2 411.3L830.6 415.9Z" fill="#f58486"/>
<rect x="823.4" y="370.3" width="14.4" height="39.7" fill="url(#g2)"/>
<rect x="823.4" y="406.6" width="14.4" height="3.4" fill="url(#sh)"/>
<rect x="823.4" y="370.3" width="14.4" height="1.8" fill="#b86b22" opacity=".5"/>
<rect x="824.9" y="370.3" width="11.4" height=".8" fill="#ffcf63" opacity=".55"/>
<path d="M826.0 371.6L835.2 371.6L830.6 376.2Z" fill="#ffcf63"/>
<rect x="823.4" y="338.0" width="14.4" height="32.3" fill="url(#g3)"/>
<rect x="823.4" y="366.9" width="14.4" height="3.4" fill="url(#sh)"/>
<rect x="823.4" y="338.0" width="14.4" height="1.8" fill="#1c3558" opacity=".5"/>
<rect x="824.9" y="338.0" width="11.4" height=".8" fill="#5488cc" opacity=".55"/>
<path d="M826.0 339.3L835.2 339.3L830.6 343.9Z" fill="#5488cc"/>
<rect x="823.4" y="292.8" width="14.4" height="45.3" fill="url(#g4)"/>
<rect x="823.4" y="334.6" width="14.4" height="3.4" fill="url(#sh)"/>
<rect x="823.4" y="292.8" width="14.4" height="1.8" fill="#6c8835" opacity=".5"/>
<rect x="824.9" y="292.8" width="11.4" height=".8" fill="#cdf070" opacity=".55"/>
<path d="M826.0 294.1L835.2 294.1L830.6 298.7Z" fill="#cdf070"/>
<rect x="823.4" y="267.3" width="14.4" height="25.5" fill="url(#g5)"/>
<rect x="823.4" y="289.4" width="14.4" height="3.4" fill="url(#sh)"/>
<rect x="823.4" y="267.3" width="14.4" height="1.8" fill="#5a4278" opacity=".5"/>
<rect x="824.9" y="267.3" width="11.4" height=".8" fill="#b995e6" opacity=".55"/>
<path d="M826.0 268.6L835.2 268.6L830.6 273.2Z" fill="#b995e6"/>
<rect x="845.3" y="459.8" width="14.4" height="28.8" fill="url(#g0)"/>
<rect x="845.3" y="485.2" width="14.4" height="3.4" fill="url(#sh)"/>
<rect x="845.3" y="459.8" width="14.4" height="1.8" fill="#2f5688" opacity=".5"/>
<rect x="846.8" y="459.8" width="11.4" height=".8" fill="#7db4f2" opacity=".55"/>
<path d="M847.9 461.1L857.1 461.1L852.5 465.7Z" fill="#7db4f2"/>
<rect x="845.3" y="389.0" width="14.4" height="70.8" fill="url(#g1)"/>
<rect x="845.3" y="456.4" width="14.4" height="3.4" fill="url(#sh)"/>
<rect x="845.3" y="389.0" width="14.4" height="1.8" fill="#8c3533" opacity=".5"/>
<rect x="846.8" y="389.0" width="11.4" height=".8" fill="#f58486" opacity=".55"/>
<path d="M847.9 390.3L857.1 390.3L852.5 394.9Z" fill="#f58486"/>
<rect x="845.3" y="342.6" width="14.4" height="46.5" fill="url(#g2)"/>
<rect x="845.3" y="385.6" width="14.4" height="3.4" fill="url(#sh)"/>
<rect x="845.3" y="342.6" width="14.4" height="1.8" fill="#b86b22" opacity=".5"/>
<rect x="846.8" y="342.6" width="11.4" height=".8" fill="#ffcf63" opacity=".55"/>
<path d="M847.9 343.9L857.1 343.9L852.5 348.5Z" fill="#ffcf63"/>
<rect x="845.3" y="315.4" width="14.4" height="27.2" fill="url(#g3)"/>
<rect x="845.3" y="339.2" width="14.4" height="3.4" fill="url(#sh)"/>
<rect x="845.3" y="315.4" width="14.4" height="1.8" fill="#1c3558" opacity=".5"/>
<rect x="846.8" y="315.4" width="11.4" height=".8" fill="#5488cc" opacity=".55"/>
<path d="M847.9 316.7L857.1 316.7L852.5 321.3Z" fill="#5488cc"/>
<rect x="845.3" y="289.6" width="14.4" height="25.8" fill="url(#g4)"/>
<rect x="845.3" y="312.0" width="14.4" height="3.4" fill="url(#sh)"/>
<rect x="845.3" y="289.6" width="14.4" height="1.8" fill="#6c8835" opacity=".5"/>
<rect x="846.8" y="289.6" width="11.4" height=".8" fill="#cdf070" opacity=".55"/>
<path d="M847.9 290.9L857.1 290.9L852.5 295.5Z" fill="#cdf070"/>
<rect x="845.3" y="260.3" width="14.4" height="29.4" fill="url(#g5)"/>
<rect x="845.3" y="286.2" width="14.4" height="3.4" fill="url(#sh)"/>
<rect x="845.3" y="260.3" width="14.4" height="1.8" fill="#5a4278" opacity=".5"/>
<rect x="846.8" y="260.3" width="11.4" height=".8" fill="#b995e6" opacity=".55"/>
<path d="M847.9 261.6L857.1 261.6L852.5 266.2Z" fill="#b995e6"/>
<rect x="867.1" y="451.7" width="14.4" height="36.9" fill="url(#g0)"/>
<rect x="867.1" y="485.2" width="14.4" height="3.4" fill="url(#sh)"/>
<rect x="867.1" y="451.7" width="14.4" height="1.8" fill="#2f5688" opacity=".5"/>
<rect x="868.6" y="451.7" width="11.4" height=".8" fill="#7db4f2" opacity=".55"/>
<path d="M869.7 453.0L878.9 453.0L874.3 457.6Z" fill="#7db4f2"/>
<rect x="867.1" y="401.0" width="14.4" height="50.8" fill="url(#g1)"/>
<rect x="867.1" y="448.3" width="14.4" height="3.4" fill="url(#sh)"/>
<rect x="867.1" y="401.0" width="14.4" height="1.8" fill="#8c3533" opacity=".5"/>
<rect x="868.6" y="401.0" width="11.4" height=".8" fill="#f58486" opacity=".55"/>
<path d="M869.7 402.3L878.9 402.3L874.3 406.9Z" fill="#f58486"/>
<rect x="867.1" y="370.3" width="14.4" height="30.6" fill="url(#g2)"/>
<rect x="867.1" y="397.6" width="14.4" height="3.4" fill="url(#sh)"/>
<rect x="867.1" y="370.3" width="14.4" height="1.8" fill="#b86b22" opacity=".5"/>
<rect x="868.6" y="370.3" width="11.4" height=".8" fill="#ffcf63" opacity=".55"/>
<path d="M869.7 371.6L878.9 371.6L874.3 376.2Z" fill="#ffcf63"/>
<rect x="867.1" y="359.0" width="14.4" height="11.3" fill="url(#g3)"/>
<rect x="867.1" y="366.9" width="14.4" height="3.4" fill="url(#sh)"/>
<rect x="867.1" y="359.0" width="14.4" height="1.8" fill="#1c3558" opacity=".5"/>
<rect x="868.6" y="359.0" width="11.4" height=".8" fill="#5488cc" opacity=".55"/>
<path d="M869.7 360.3L878.9 360.3L874.3 364.9Z" fill="#5488cc"/>
<rect x="867.1" y="352.4" width="14.4" height="6.6" fill="url(#g4)"/>
<rect x="867.1" y="355.7" width="14.4" height="3.3" fill="url(#sh)"/>
<rect x="867.1" y="352.4" width="14.4" height="1.8" fill="#6c8835" opacity=".5"/>
<rect x="868.6" y="352.4" width="11.4" height=".8" fill="#cdf070" opacity=".55"/>
<path d="M869.7 353.7L878.9 353.7L874.3 358.3Z" fill="#cdf070"/>
<rect x="867.1" y="324.5" width="14.4" height="28.0" fill="url(#g5)"/>
<rect x="867.1" y="349.0" width="14.4" height="3.4" fill="url(#sh)"/>
<rect x="867.1" y="324.5" width="14.4" height="1.8" fill="#5a4278" opacity=".5"/>
<rect x="868.6" y="324.5" width="11.4" height=".8" fill="#b995e6" opacity=".55"/>
<path d="M869.7 325.8L878.9 325.8L874.3 330.4Z" fill="#b995e6"/>
<rect x="889.0" y="441.3" width="14.4" height="47.3" fill="url(#g0)"/>
<rect x="889.0" y="485.2" width="14.4" height="3.4" fill="url(#sh)"/>
<rect x="889.0" y="441.3" width="14.4" height="1.8" fill="#2f5688" opacity=".5"/>
<rect x="890.5" y="441.3" width="11.4" height=".8" fill="#7db4f2" opacity=".55"/>
<path d="M891.6 442.6L900.8 442.6L896.2 447.2Z" fill="#7db4f2"/>
<rect x="889.0" y="399.3" width="14.4" height="42.0" fill="url(#g1)"/>
<rect x="889.0" y="437.9" width="14.4" height="3.4" fill="url(#sh)"/>
<rect x="889.0" y="399.3" width="14.4" height="1.8" fill="#8c3533" opacity=".5"/>
<rect x="890.5" y="399.3" width="11.4" height=".8" fill="#f58486" opacity=".55"/>
<path d="M891.6 400.6L900.8 400.6L896.2 405.2Z" fill="#f58486"/>
<rect x="889.0" y="354.5" width="14.4" height="44.8" fill="url(#g2)"/>
<rect x="889.0" y="395.9" width="14.4" height="3.4" fill="url(#sh)"/>
<rect x="889.0" y="354.5" width="14.4" height="1.8" fill="#b86b22" opacity=".5"/>
<rect x="890.5" y="354.5" width="11.4" height=".8" fill="#ffcf63" opacity=".55"/>
<path d="M891.6 355.8L900.8 355.8L896.2 360.4Z" fill="#ffcf63"/>
<rect x="889.0" y="337.0" width="14.4" height="17.5" fill="url(#g3)"/>
<rect x="889.0" y="351.1" width="14.4" height="3.4" fill="url(#sh)"/>
<rect x="889.0" y="337.0" width="14.4" height="1.8" fill="#1c3558" opacity=".5"/>
<rect x="890.5" y="337.0" width="11.4" height=".8" fill="#5488cc" opacity=".55"/>
<path d="M891.6 338.3L900.8 338.3L896.2 342.9Z" fill="#5488cc"/>
<rect x="889.0" y="253.3" width="14.4" height="83.7" fill="url(#g4)"/>
<rect x="889.0" y="333.6" width="14.4" height="3.4" fill="url(#sh)"/>
<rect x="889.0" y="253.3" width="14.4" height="1.8" fill="#6c8835" opacity=".5"/>
<rect x="890.5" y="253.3" width="11.4" height=".8" fill="#cdf070" opacity=".55"/>
<path d="M891.6 254.6L900.8 254.6L896.2 259.2Z" fill="#cdf070"/>
<rect x="889.0" y="236.0" width="14.4" height="17.3" fill="url(#g5)"/>
<rect x="889.0" y="249.9" width="14.4" height="3.4" fill="url(#sh)"/>
<rect x="889.0" y="236.0" width="14.4" height="1.8" fill="#5a4278" opacity=".5"/>
<rect x="890.5" y="236.0" width="11.4" height=".8" fill="#b995e6" opacity=".55"/>
<path d="M891.6 237.3L900.8 237.3L896.2 241.9Z" fill="#b995e6"/>
<rect x="910.9" y="426.6" width="14.4" height="62.0" fill="url(#g0)"/>
<rect x="910.9" y="485.2" width="14.4" height="3.4" fill="url(#sh)"/>
<rect x="910.9" y="426.6" width="14.4" height="1.8" fill="#2f5688" opacity=".5"/>
<rect x="912.4" y="426.6" width="11.4" height=".8" fill="#7db4f2" opacity=".55"/>
<path d="M913.5 427.9L922.7 427.9L918.1 432.5Z" fill="#7db4f2"/>
<rect x="910.9" y="410.8" width="14.4" height="15.8" fill="url(#g1)"/>
<rect x="910.9" y="423.2" width="14.4" height="3.4" fill="url(#sh)"/>
<rect x="910.9" y="410.8" width="14.4" height="1.8" fill="#8c3533" opacity=".5"/>
<rect x="912.4" y="410.8" width="11.4" height=".8" fill="#f58486" opacity=".55"/>
<path d="M913.5 412.1L922.7 412.1L918.1 416.7Z" fill="#f58486"/>
<rect x="910.9" y="366.8" width="14.4" height="44.0" fill="url(#g2)"/>
<rect x="910.9" y="407.4" width="14.4" height="3.4" fill="url(#sh)"/>
<rect x="910.9" y="366.8" width="14.4" height="1.8" fill="#b86b22" opacity=".5"/>
<rect x="912.4" y="366.8" width="11.4" height=".8" fill="#ffcf63" opacity=".55"/>
<path d="M913.5 368.1L922.7 368.1L918.1 372.7Z" fill="#ffcf63"/>
<rect x="910.9" y="343.0" width="14.4" height="23.9" fill="url(#g3)"/>
<rect x="910.9" y="363.4" width="14.4" height="3.4" fill="url(#sh)"/>
<rect x="910.9" y="343.0" width="14.4" height="1.8" fill="#1c3558" opacity=".5"/>
<rect x="912.4" y="343.0" width="11.4" height=".8" fill="#5488cc" opacity=".55"/>
<path d="M913.5 344.3L922.7 344.3L918.1 348.9Z" fill="#5488cc"/>
<rect x="910.9" y="253.7" width="14.4" height="89.3" fill="url(#g4)"/>
<rect x="910.9" y="339.6" width="14.4" height="3.4" fill="url(#sh)"/>
<rect x="910.9" y="253.7" width="14.4" height="1.8" fill="#6c8835" opacity=".5"/>
<rect x="912.4" y="253.7" width="11.4" height=".8" fill="#cdf070" opacity=".55"/>
<path d="M913.5 255.0L922.7 255.0L918.1 259.6Z" fill="#cdf070"/>
<rect x="910.9" y="193.2" width="14.4" height="60.5" fill="url(#g5)"/>
<rect x="910.9" y="250.3" width="14.4" height="3.4" fill="url(#sh)"/>
<rect x="910.9" y="193.2" width="14.4" height="1.8" fill="#5a4278" opacity=".5"/>
<rect x="912.4" y="193.2" width="11.4" height=".8" fill="#b995e6" opacity=".55"/>
<path d="M913.5 194.5L922.7 194.5L918.1 199.1Z" fill="#b995e6"/>
<rect x="932.7" y="447.5" width="14.4" height="41.1" fill="url(#g0)"/>
<rect x="932.7" y="485.2" width="14.4" height="3.4" fill="url(#sh)"/>
<rect x="932.7" y="447.5" width="14.4" height="1.8" fill="#2f5688" opacity=".5"/>
<rect x="934.2" y="447.5" width="11.4" height=".8" fill="#7db4f2" opacity=".55"/>
<path d="M935.3 448.8L944.5 448.8L939.9 453.4Z" fill="#7db4f2"/>
<rect x="932.7" y="424.8" width="14.4" height="22.6" fill="url(#g1)"/>
<rect x="932.7" y="444.1" width="14.4" height="3.4" fill="url(#sh)"/>
<rect x="932.7" y="424.8" width="14.4" height="1.8" fill="#8c3533" opacity=".5"/>
<rect x="934.2" y="424.8" width="11.4" height=".8" fill="#f58486" opacity=".55"/>
<path d="M935.3 426.1L944.5 426.1L939.9 430.7Z" fill="#f58486"/>
<rect x="932.7" y="390.7" width="14.4" height="34.1" fill="url(#g2)"/>
<rect x="932.7" y="421.4" width="14.4" height="3.4" fill="url(#sh)"/>
<rect x="932.7" y="390.7" width="14.4" height="1.8" fill="#b86b22" opacity=".5"/>
<rect x="934.2" y="390.7" width="11.4" height=".8" fill="#ffcf63" opacity=".55"/>
<path d="M935.3 392.0L944.5 392.0L939.9 396.6Z" fill="#ffcf63"/>
<rect x="932.7" y="364.4" width="14.4" height="26.3" fill="url(#g3)"/>
<rect x="932.7" y="387.3" width="14.4" height="3.4" fill="url(#sh)"/>
<rect x="932.7" y="364.4" width="14.4" height="1.8" fill="#1c3558" opacity=".5"/>
<rect x="934.2" y="364.4" width="11.4" height=".8" fill="#5488cc" opacity=".55"/>
<path d="M935.3 365.7L944.5 365.7L939.9 370.3Z" fill="#5488cc"/>
<rect x="932.7" y="305.1" width="14.4" height="59.2" fill="url(#g4)"/>
<rect x="932.7" y="361.0" width="14.4" height="3.4" fill="url(#sh)"/>
<rect x="932.7" y="305.1" width="14.4" height="1.8" fill="#6c8835" opacity=".5"/>
<rect x="934.2" y="305.1" width="11.4" height=".8" fill="#cdf070" opacity=".55"/>
<path d="M935.3 306.4L944.5 306.4L939.9 311.0Z" fill="#cdf070"/>
<rect x="932.7" y="263.4" width="14.4" height="41.8" fill="url(#g5)"/>
<rect x="932.7" y="301.7" width="14.4" height="3.4" fill="url(#sh)"/>
<rect x="932.7" y="263.4" width="14.4" height="1.8" fill="#5a4278" opacity=".5"/>
<rect x="934.2" y="263.4" width="11.4" height=".8" fill="#b995e6" opacity=".55"/>
<path d="M935.3 264.7L944.5 264.7L939.9 269.3Z" fill="#b995e6"/>
<rect x="954.6" y="466.0" width="14.4" height="22.6" fill="url(#g0)"/>
<rect x="954.6" y="485.2" width="14.4" height="3.4" fill="url(#sh)"/>
<rect x="954.6" y="466.0" width="14.4" height="1.8" fill="#2f5688" opacity=".5"/>
<rect x="956.1" y="466.0" width="11.4" height=".8" fill="#7db4f2" opacity=".55"/>
<path d="M957.2 467.3L966.4 467.3L961.8 471.9Z" fill="#7db4f2"/>
<rect x="954.6" y="432.6" width="14.4" height="33.3" fill="url(#g1)"/>
<rect x="954.6" y="462.6" width="14.4" height="3.4" fill="url(#sh)"/>
<rect x="954.6" y="432.6" width="14.4" height="1.8" fill="#8c3533" opacity=".5"/>
<rect x="956.1" y="432.6" width="11.4" height=".8" fill="#f58486" opacity=".55"/>
<path d="M957.2 433.9L966.4 433.9L961.8 438.5Z" fill="#f58486"/>
<rect x="954.6" y="402.2" width="14.4" height="30.4" fill="url(#g2)"/>
<rect x="954.6" y="429.2" width="14.4" height="3.4" fill="url(#sh)"/>
<rect x="954.6" y="402.2" width="14.4" height="1.8" fill="#b86b22" opacity=".5"/>
<rect x="956.1" y="402.2" width="11.4" height=".8" fill="#ffcf63" opacity=".55"/>
<path d="M957.2 403.5L966.4 403.5L961.8 408.1Z" fill="#ffcf63"/>
<rect x="954.6" y="382.3" width="14.4" height="20.0" fill="url(#g3)"/>
<rect x="954.6" y="398.8" width="14.4" height="3.4" fill="url(#sh)"/>
<rect x="954.6" y="382.3" width="14.4" height="1.8" fill="#1c3558" opacity=".5"/>
<rect x="956.1" y="382.3" width="11.4" height=".8" fill="#5488cc" opacity=".55"/>
<path d="M957.2 383.6L966.4 383.6L961.8 388.2Z" fill="#5488cc"/>
<rect x="954.6" y="323.4" width="14.4" height="58.9" fill="url(#g4)"/>
<rect x="954.6" y="378.9" width="14.4" height="3.4" fill="url(#sh)"/>
<rect x="954.6" y="323.4" width="14.4" height="1.8" fill="#6c8835" opacity=".5"/>
<rect x="956.1" y="323.4" width="11.4" height=".8" fill="#cdf070" opacity=".55"/>
<path d="M957.2 324.7L966.4 324.7L961.8 329.3Z" fill="#cdf070"/>
<rect x="954.6" y="293.6" width="14.4" height="29.8" fill="url(#g5)"/>
<rect x="954.6" y="320.0" width="14.4" height="3.4" fill="url(#sh)"/>
<rect x="954.6" y="293.6" width="14.4" height="1.8" fill="#5a4278" opacity=".5"/>
<rect x="956.1" y="293.6" width="11.4" height=".8" fill="#b995e6" opacity=".55"/>
<path d="M957.2 294.9L966.4 294.9L961.8 299.5Z" fill="#b995e6"/>
<rect x="976.4" y="449.7" width="14.4" height="38.9" fill="url(#g0)"/>
<rect x="976.4" y="485.2" width="14.4" height="3.4" fill="url(#sh)"/>
<rect x="976.4" y="449.7" width="14.4" height="1.8" fill="#2f5688" opacity=".5"/>
<rect x="977.9" y="449.7" width="11.4" height=".8" fill="#7db4f2" opacity=".55"/>
<path d="M979.0 451.0L988.2 451.0L983.6 455.6Z" fill="#7db4f2"/>
<rect x="976.4" y="399.1" width="14.4" height="50.6" fill="url(#g1)"/>
<rect x="976.4" y="446.3" width="14.4" height="3.4" fill="url(#sh)"/>
<rect x="976.4" y="399.1" width="14.4" height="1.8" fill="#8c3533" opacity=".5"/>
<rect x="977.9" y="399.1" width="11.4" height=".8" fill="#f58486" opacity=".55"/>
<path d="M979.0 400.4L988.2 400.4L983.6 405.0Z" fill="#f58486"/>
<rect x="976.4" y="371.1" width="14.4" height="28.0" fill="url(#g2)"/>
<rect x="976.4" y="395.7" width="14.4" height="3.4" fill="url(#sh)"/>
<rect x="976.4" y="371.1" width="14.4" height="1.8" fill="#b86b22" opacity=".5"/>
<rect x="977.9" y="371.1" width="11.4" height=".8" fill="#ffcf63" opacity=".55"/>
<path d="M979.0 372.4L988.2 372.4L983.6 377.0Z" fill="#ffcf63"/>
<rect x="976.4" y="342.6" width="14.4" height="28.6" fill="url(#g3)"/>
<rect x="976.4" y="367.7" width="14.4" height="3.4" fill="url(#sh)"/>
<rect x="976.4" y="342.6" width="14.4" height="1.8" fill="#1c3558" opacity=".5"/>
<rect x="977.9" y="342.6" width="11.4" height=".8" fill="#5488cc" opacity=".55"/>
<path d="M979.0 343.9L988.2 343.9L983.6 348.5Z" fill="#5488cc"/>
<rect x="976.4" y="320.3" width="14.4" height="22.2" fill="url(#g4)"/>
<rect x="976.4" y="339.2" width="14.4" height="3.4" fill="url(#sh)"/>
<rect x="976.4" y="320.3" width="14.4" height="1.8" fill="#6c8835" opacity=".5"/>
<rect x="977.9" y="320.3" width="11.4" height=".8" fill="#cdf070" opacity=".55"/>
<path d="M979.0 321.6L988.2 321.6L983.6 326.2Z" fill="#cdf070"/>
<rect x="976.4" y="316.8" width="14.4" height="3.5" fill="url(#g5)"/>
<rect x="976.4" y="318.6" width="14.4" height="1.7" fill="url(#sh)"/>
<rect x="976.4" y="316.8" width="14.4" height="1.4" fill="#5a4278" opacity=".5"/>
<rect x="977.9" y="316.8" width="11.4" height=".8" fill="#b995e6" opacity=".55"/>
<path d="M979.0 318.1L988.2 318.1L983.6 320.4Z" fill="#b995e6"/>
<rect x="998.3" y="485.9" width="14.4" height="2.7" fill="url(#g0)"/>
<rect x="998.3" y="487.2" width="14.4" height="1.4" fill="url(#sh)"/>
<rect x="998.3" y="485.9" width="14.4" height="1.1" fill="#2f5688" opacity=".5"/>
<rect x="999.8" y="485.9" width="11.4" height=".8" fill="#7db4f2" opacity=".55"/>
<path d="M1000.9 487.2L1010.1 487.2L1005.5 488.7Z" fill="#7db4f2"/>
<rect x="998.3" y="483.7" width="14.4" height="2.2" fill="url(#g1)"/>
<rect x="998.3" y="484.8" width="14.4" height="1.1" fill="url(#sh)"/>
<rect x="1000.3" y="483.7" width="10.4" height="1.0" fill="#f58486" opacity=".4"/>
<rect x="998.3" y="480.8" width="14.4" height="2.9" fill="url(#g2)"/>
<rect x="998.3" y="482.2" width="14.4" height="1.4" fill="url(#sh)"/>
<rect x="998.3" y="480.8" width="14.4" height="1.2" fill="#b86b22" opacity=".5"/>
<rect x="999.8" y="480.8" width="11.4" height=".8" fill="#ffcf63" opacity=".55"/>
<path d="M1000.9 482.1L1010.1 482.1L1005.5 483.8Z" fill="#ffcf63"/>
<rect x="998.3" y="479.5" width="14.4" height="1.2" fill="url(#g3)"/>
<rect x="998.3" y="480.2" width="14.4" height="0.6" fill="url(#sh)"/>
<rect x="1000.3" y="479.5" width="10.4" height="1.0" fill="#5488cc" opacity=".4"/>
<rect x="998.3" y="465.7" width="14.4" height="13.8" fill="url(#g4)"/>
<rect x="998.3" y="476.1" width="14.4" height="3.4" fill="url(#sh)"/>
<rect x="998.3" y="465.7" width="14.4" height="1.8" fill="#6c8835" opacity=".5"/>
<rect x="999.8" y="465.7" width="11.4" height=".8" fill="#cdf070" opacity=".55"/>
<path d="M1000.9 467.0L1010.1 467.0L1005.5 471.6Z" fill="#cdf070"/>
<path d="M88.4 445.5C90.6 442.3 96.5 432.4 101.4 426.2C106.3 420.0 112.8 413.3 117.9 408.4C123.0 403.5 126.6 399.8 131.9 397.0C137.2 394.2 144.1 393.0 149.6 391.9C155.1 390.8 159.4 390.5 164.9 390.6C170.4 390.7 176.3 391.8 182.7 392.7C189.0 393.6 195.4 394.7 203.0 396.2C210.6 397.7 222.2 400.3 228.4 401.5C234.6 402.7 233.8 402.7 240.0 403.3C246.2 403.9 256.9 404.9 265.4 405.4C273.9 405.9 282.3 406.4 290.8 406.4C299.3 406.4 307.7 406.1 316.2 405.4C324.7 404.7 333.1 403.3 341.6 402.0C350.1 400.7 358.5 399.4 367.0 397.5C375.5 395.6 383.9 393.3 392.4 390.6C400.9 387.9 409.3 384.1 417.8 381.2C426.3 378.3 434.7 375.6 443.2 373.0C451.7 370.4 460.1 367.8 468.6 365.3C477.1 362.8 486.5 359.9 494.0 357.8C501.5 355.8 506.3 354.6 513.8 353.0C521.3 351.4 530.6 349.7 539.1 348.0C547.6 346.3 556.0 344.6 564.5 343.0C573.0 341.4 583.2 339.7 590.0 338.5C596.8 337.3 598.6 337.1 605.4 336.0C612.2 334.9 622.3 333.3 630.8 331.7C639.3 330.1 647.7 328.9 656.2 326.6C664.7 324.3 673.1 321.3 681.6 318.0C690.1 314.7 698.5 311.0 707.0 306.8C715.5 302.6 723.9 298.1 732.4 293.0C740.9 287.9 749.3 282.2 757.8 276.4C766.3 270.6 774.8 264.8 783.2 258.4C791.7 252.0 799.7 245.6 808.5 237.8C817.3 230.0 827.4 219.0 835.8 211.6C844.2 204.2 851.1 198.3 858.7 193.3C866.3 188.3 874.0 184.5 881.6 181.8C889.2 179.1 896.9 176.4 904.5 177.2C912.1 178.0 920.6 182.1 927.4 186.4C934.1 190.7 939.7 195.8 945.0 203.0C950.3 210.2 954.7 219.6 959.4 229.8C964.1 240.0 969.0 251.9 973.2 264.1C977.4 276.3 981.6 293.0 984.6 303.0C987.6 313.0 989.3 314.3 991.5 324.0C993.7 333.7 995.6 348.6 997.8 361.0C1000.0 373.4 1003.5 392.2 1004.6 398.4" fill="none" stroke="#dbeff7" stroke-width="5.6" stroke-linecap="round"/>
<path d="M88.4 445.5C90.6 442.3 96.5 432.4 101.4 426.2C106.3 420.0 112.8 413.3 117.9 408.4C123.0 403.5 126.6 399.8 131.9 397.0C137.2 394.2 144.1 393.0 149.6 391.9C155.1 390.8 159.4 390.5 164.9 390.6C170.4 390.7 176.3 391.8 182.7 392.7C189.0 393.6 195.4 394.7 203.0 396.2C210.6 397.7 222.2 400.3 228.4 401.5C234.6 402.7 233.8 402.7 240.0 403.3C246.2 403.9 256.9 404.9 265.4 405.4C273.9 405.9 282.3 406.4 290.8 406.4C299.3 406.4 307.7 406.1 316.2 405.4C324.7 404.7 333.1 403.3 341.6 402.0C350.1 400.7 358.5 399.4 367.0 397.5C375.5 395.6 383.9 393.3 392.4 390.6C400.9 387.9 409.3 384.1 417.8 381.2C426.3 378.3 434.7 375.6 443.2 373.0C451.7 370.4 460.1 367.8 468.6 365.3C477.1 362.8 486.5 359.9 494.0 357.8C501.5 355.8 506.3 354.6 513.8 353.0C521.3 351.4 530.6 349.7 539.1 348.0C547.6 346.3 556.0 344.6 564.5 343.0C573.0 341.4 583.2 339.7 590.0 338.5C596.8 337.3 598.6 337.1 605.4 336.0C612.2 334.9 622.3 333.3 630.8 331.7C639.3 330.1 647.7 328.9 656.2 326.6C664.7 324.3 673.1 321.3 681.6 318.0C690.1 314.7 698.5 311.0 707.0 306.8C715.5 302.6 723.9 298.1 732.4 293.0C740.9 287.9 749.3 282.2 757.8 276.4C766.3 270.6 774.8 264.8 783.2 258.4C791.7 252.0 799.7 245.6 808.5 237.8C817.3 230.0 827.4 219.0 835.8 211.6C844.2 204.2 851.1 198.3 858.7 193.3C866.3 188.3 874.0 184.5 881.6 181.8C889.2 179.1 896.9 176.4 904.5 177.2C912.1 178.0 920.6 182.1 927.4 186.4C934.1 190.7 939.7 195.8 945.0 203.0C950.3 210.2 954.7 219.6 959.4 229.8C964.1 240.0 969.0 251.9 973.2 264.1C977.4 276.3 981.6 293.0 984.6 303.0C987.6 313.0 989.3 314.3 991.5 324.0C993.7 333.7 995.6 348.6 997.8 361.0C1000.0 373.4 1003.5 392.2 1004.6 398.4" fill="none" stroke="#6aa6ba" stroke-width="2.8" stroke-dasharray="0.1 5.35" stroke-linecap="round"/>
<path d="M87.4 431.0C91.0 429.4 102.0 428.3 109.2 421.5C116.5 414.8 123.8 393.6 131.1 390.7C138.4 387.8 145.7 399.3 153.0 404.3C160.2 409.3 167.5 417.4 174.8 420.7C182.1 424.1 189.4 430.1 196.7 424.4C204.0 418.7 211.3 393.4 218.5 386.6C225.8 379.8 233.1 379.9 240.4 383.7C247.7 387.5 255.0 406.7 262.3 409.2C269.5 411.7 276.8 403.4 284.1 398.9C291.4 394.5 298.7 386.2 306.0 382.5C313.3 378.7 320.6 373.8 327.8 376.3C335.1 378.8 342.4 393.8 349.7 397.7C357.0 401.5 364.3 400.7 371.6 399.5C378.8 398.3 386.1 393.9 393.4 390.3C400.7 386.6 408.0 377.1 415.3 377.5C422.6 377.9 429.9 386.9 437.1 392.7C444.4 398.6 451.7 413.0 459.0 412.5C466.3 411.9 473.6 399.3 480.9 389.5C488.1 379.6 495.4 361.2 502.7 353.2C510.0 345.3 517.3 342.6 524.6 341.9C531.9 341.3 539.2 352.9 546.4 349.5C553.7 346.2 561.0 324.2 568.3 321.6C575.6 319.0 582.9 331.0 590.2 333.9C597.4 336.9 604.7 336.9 612.0 339.3C619.3 341.7 626.6 351.9 633.9 348.3C641.2 344.7 648.5 328.4 655.7 317.9C663.0 307.3 670.3 285.2 677.6 285.0C684.9 284.7 692.2 318.3 699.5 316.2C706.7 314.1 714.0 281.9 721.3 272.2C728.6 262.5 735.9 260.2 743.2 257.8C750.5 255.4 757.8 253.5 765.0 257.8C772.3 262.1 779.6 284.1 786.9 283.7C794.2 283.4 801.5 266.0 808.8 255.7C816.0 245.5 823.3 230.9 830.6 222.0C837.9 213.1 845.2 193.5 852.5 202.3C859.8 211.0 867.1 277.3 874.3 274.7C881.6 272.0 888.9 209.6 896.2 186.2C903.5 162.8 910.8 137.1 918.1 134.4C925.3 131.6 932.6 156.5 939.9 169.8C947.2 183.1 956.3 204.9 961.8 214.2C967.3 223.5 970.0 221.9 973.0 225.8C976.0 229.7 978.1 232.9 980.0 237.3C981.9 241.7 983.3 246.3 984.6 252.0C985.9 257.7 986.9 263.9 988.0 271.5C989.1 279.1 990.3 286.8 991.5 297.5C992.7 308.2 993.7 318.2 995.0 336.0C996.3 353.8 997.8 384.3 999.5 404.5C1001.2 424.7 1004.3 448.4 1005.3 457.2" fill="none" stroke="#000" stroke-opacity=".38" stroke-width="3.2" stroke-linecap="round" stroke-linejoin="round" transform="translate(1.6,2.2)" filter="url(#blur)"/>
<path d="M87.4 431.0C91.0 429.4 102.0 428.3 109.2 421.5C116.5 414.8 123.8 393.6 131.1 390.7C138.4 387.8 145.7 399.3 153.0 404.3C160.2 409.3 167.5 417.4 174.8 420.7C182.1 424.1 189.4 430.1 196.7 424.4C204.0 418.7 211.3 393.4 218.5 386.6C225.8 379.8 233.1 379.9 240.4 383.7C247.7 387.5 255.0 406.7 262.3 409.2C269.5 411.7 276.8 403.4 284.1 398.9C291.4 394.5 298.7 386.2 306.0 382.5C313.3 378.7 320.6 373.8 327.8 376.3C335.1 378.8 342.4 393.8 349.7 397.7C357.0 401.5 364.3 400.7 371.6 399.5C378.8 398.3 386.1 393.9 393.4 390.3C400.7 386.6 408.0 377.1 415.3 377.5C422.6 377.9 429.9 386.9 437.1 392.7C444.4 398.6 451.7 413.0 459.0 412.5C466.3 411.9 473.6 399.3 480.9 389.5C488.1 379.6 495.4 361.2 502.7 353.2C510.0 345.3 517.3 342.6 524.6 341.9C531.9 341.3 539.2 352.9 546.4 349.5C553.7 346.2 561.0 324.2 568.3 321.6C575.6 319.0 582.9 331.0 590.2 333.9C597.4 336.9 604.7 336.9 612.0 339.3C619.3 341.7 626.6 351.9 633.9 348.3C641.2 344.7 648.5 328.4 655.7 317.9C663.0 307.3 670.3 285.2 677.6 285.0C684.9 284.7 692.2 318.3 699.5 316.2C706.7 314.1 714.0 281.9 721.3 272.2C728.6 262.5 735.9 260.2 743.2 257.8C750.5 255.4 757.8 253.5 765.0 257.8C772.3 262.1 779.6 284.1 786.9 283.7C794.2 283.4 801.5 266.0 808.8 255.7C816.0 245.5 823.3 230.9 830.6 222.0C837.9 213.1 845.2 193.5 852.5 202.3C859.8 211.0 867.1 277.3 874.3 274.7C881.6 272.0 888.9 209.6 896.2 186.2C903.5 162.8 910.8 137.1 918.1 134.4C925.3 131.6 932.6 156.5 939.9 169.8C947.2 183.1 956.3 204.9 961.8 214.2C967.3 223.5 970.0 221.9 973.0 225.8C976.0 229.7 978.1 232.9 980.0 237.3C981.9 241.7 983.3 246.3 984.6 252.0C985.9 257.7 986.9 263.9 988.0 271.5C989.1 279.1 990.3 286.8 991.5 297.5C992.7 308.2 993.7 318.2 995.0 336.0C996.3 353.8 997.8 384.3 999.5 404.5C1001.2 424.7 1004.3 448.4 1005.3 457.2" fill="none" stroke="#000" stroke-width="3.1" stroke-linecap="round" stroke-linejoin="round"/>
<text class="b" font-size="11.5" fill="#595959" stroke="#595959" stroke-width=".25" text-anchor="end" textLength="52" lengthAdjust="spacingAndGlyphs" transform="translate(90.2 505.7) rotate(-45)">2012 Qtr1</text>
<text class="b" font-size="11.5" fill="#595959" stroke="#595959" stroke-width=".25" text-anchor="end" textLength="52" lengthAdjust="spacingAndGlyphs" transform="translate(112.0 505.7) rotate(-45)">2012 Qtr2</text>
<text class="b" font-size="11.5" fill="#595959" stroke="#595959" stroke-width=".25" text-anchor="end" textLength="52" lengthAdjust="spacingAndGlyphs" transform="translate(133.9 505.7) rotate(-45)">2012 Qtr3</text>
<text class="b" font-size="11.5" fill="#595959" stroke="#595959" stroke-width=".25" text-anchor="end" textLength="52" lengthAdjust="spacingAndGlyphs" transform="translate(155.8 505.7) rotate(-45)">2012 Qtr4</text>
<text class="b" font-size="11.5" fill="#595959" stroke="#595959" stroke-width=".25" text-anchor="end" textLength="52" lengthAdjust="spacingAndGlyphs" transform="translate(177.6 505.7) rotate(-45)">2013 Qtr1</text>
<text class="b" font-size="11.5" fill="#595959" stroke="#595959" stroke-width=".25" text-anchor="end" textLength="52" lengthAdjust="spacingAndGlyphs" transform="translate(199.5 505.7) rotate(-45)">2013 Qtr2</text>
<text class="b" font-size="11.5" fill="#595959" stroke="#595959" stroke-width=".25" text-anchor="end" textLength="52" lengthAdjust="spacingAndGlyphs" transform="translate(221.3 505.7) rotate(-45)">2013 Qtr3</text>
<text class="b" font-size="11.5" fill="#595959" stroke="#595959" stroke-width=".25" text-anchor="end" textLength="52" lengthAdjust="spacingAndGlyphs" transform="translate(243.2 505.7) rotate(-45)">2013 Qtr4</text>
<text class="b" font-size="11.5" fill="#595959" stroke="#595959" stroke-width=".25" text-anchor="end" textLength="52" lengthAdjust="spacingAndGlyphs" transform="translate(265.1 505.7) rotate(-45)">2014 Qtr1</text>
<text class="b" font-size="11.5" fill="#595959" stroke="#595959" stroke-width=".25" text-anchor="end" textLength="52" lengthAdjust="spacingAndGlyphs" transform="translate(286.9 505.7) rotate(-45)">2014 Qtr2</text>
<text class="b" font-size="11.5" fill="#595959" stroke="#595959" stroke-width=".25" text-anchor="end" textLength="52" lengthAdjust="spacingAndGlyphs" transform="translate(308.8 505.7) rotate(-45)">2014 Qtr3</text>
<text class="b" font-size="11.5" fill="#595959" stroke="#595959" stroke-width=".25" text-anchor="end" textLength="52" lengthAdjust="spacingAndGlyphs" transform="translate(330.6 505.7) rotate(-45)">2014 Qtr4</text>
<text class="b" font-size="11.5" fill="#595959" stroke="#595959" stroke-width=".25" text-anchor="end" textLength="52" lengthAdjust="spacingAndGlyphs" transform="translate(352.5 505.7) rotate(-45)">2015 Qtr1</text>
<text class="b" font-size="11.5" fill="#595959" stroke="#595959" stroke-width=".25" text-anchor="end" textLength="52" lengthAdjust="spacingAndGlyphs" transform="translate(374.4 505.7) rotate(-45)">2015 Qtr2</text>
<text class="b" font-size="11.5" fill="#595959" stroke="#595959" stroke-width=".25" text-anchor="end" textLength="52" lengthAdjust="spacingAndGlyphs" transform="translate(396.2 505.7) rotate(-45)">2015 Qtr3</text>
<text class="b" font-size="11.5" fill="#595959" stroke="#595959" stroke-width=".25" text-anchor="end" textLength="52" lengthAdjust="spacingAndGlyphs" transform="translate(418.1 505.7) rotate(-45)">2015 Qtr4</text>
<text class="b" font-size="11.5" fill="#595959" stroke="#595959" stroke-width=".25" text-anchor="end" textLength="52" lengthAdjust="spacingAndGlyphs" transform="translate(439.9 505.7) rotate(-45)">2016 Qtr1</text>
<text class="b" font-size="11.5" fill="#595959" stroke="#595959" stroke-width=".25" text-anchor="end" textLength="52" lengthAdjust="spacingAndGlyphs" transform="translate(461.8 505.7) rotate(-45)">2016 Qtr2</text>
<text class="b" font-size="11.5" fill="#595959" stroke="#595959" stroke-width=".25" text-anchor="end" textLength="52" lengthAdjust="spacingAndGlyphs" transform="translate(483.7 505.7) rotate(-45)">2016 Qtr3</text>
<text class="b" font-size="11.5" fill="#595959" stroke="#595959" stroke-width=".25" text-anchor="end" textLength="52" lengthAdjust="spacingAndGlyphs" transform="translate(505.5 505.7) rotate(-45)">2016 Qtr4</text>
<text class="b" font-size="11.5" fill="#595959" stroke="#595959" stroke-width=".25" text-anchor="end" textLength="52" lengthAdjust="spacingAndGlyphs" transform="translate(527.4 505.7) rotate(-45)">2017 Qtr1</text>
<text class="b" font-size="11.5" fill="#595959" stroke="#595959" stroke-width=".25" text-anchor="end" textLength="52" lengthAdjust="spacingAndGlyphs" transform="translate(549.2 505.7) rotate(-45)">2017 Qtr2</text>
<text class="b" font-size="11.5" fill="#595959" stroke="#595959" stroke-width=".25" text-anchor="end" textLength="52" lengthAdjust="spacingAndGlyphs" transform="translate(571.1 505.7) rotate(-45)">2017 Qtr3</text>
<text class="b" font-size="11.5" fill="#595959" stroke="#595959" stroke-width=".25" text-anchor="end" textLength="52" lengthAdjust="spacingAndGlyphs" transform="translate(593.0 505.7) rotate(-45)">2017 Qtr4</text>
<text class="b" font-size="11.5" fill="#595959" stroke="#595959" stroke-width=".25" text-anchor="end" textLength="52" lengthAdjust="spacingAndGlyphs" transform="translate(614.8 505.7) rotate(-45)">2018 Qtr1</text>
<text class="b" font-size="11.5" fill="#595959" stroke="#595959" stroke-width=".25" text-anchor="end" textLength="52" lengthAdjust="spacingAndGlyphs" transform="translate(636.7 505.7) rotate(-45)">2018 Qtr2</text>
<text class="b" font-size="11.5" fill="#595959" stroke="#595959" stroke-width=".25" text-anchor="end" textLength="52" lengthAdjust="spacingAndGlyphs" transform="translate(658.5 505.7) rotate(-45)">2018 Qtr3</text>
<text class="b" font-size="11.5" fill="#595959" stroke="#595959" stroke-width=".25" text-anchor="end" textLength="52" lengthAdjust="spacingAndGlyphs" transform="translate(680.4 505.7) rotate(-45)">2018 Qtr4</text>
<text class="b" font-size="11.5" fill="#595959" stroke="#595959" stroke-width=".25" text-anchor="end" textLength="52" lengthAdjust="spacingAndGlyphs" transform="translate(702.3 505.7) rotate(-45)">2019 Qtr1</text>
<text class="b" font-size="11.5" fill="#595959" stroke="#595959" stroke-width=".25" text-anchor="end" textLength="52" lengthAdjust="spacingAndGlyphs" transform="translate(724.1 505.7) rotate(-45)">2019 Qtr2</text>
<text class="b" font-size="11.5" fill="#595959" stroke="#595959" stroke-width=".25" text-anchor="end" textLength="52" lengthAdjust="spacingAndGlyphs" transform="translate(746.0 505.7) rotate(-45)">2019 Qtr3</text>
<text class="b" font-size="11.5" fill="#595959" stroke="#595959" stroke-width=".25" text-anchor="end" textLength="52" lengthAdjust="spacingAndGlyphs" transform="translate(767.8 505.7) rotate(-45)">2019 Qtr4</text>
<text class="b" font-size="11.5" fill="#595959" stroke="#595959" stroke-width=".25" text-anchor="end" textLength="52" lengthAdjust="spacingAndGlyphs" transform="translate(789.7 505.7) rotate(-45)">2020 Qtr1</text>
<text class="b" font-size="11.5" fill="#595959" stroke="#595959" stroke-width=".25" text-anchor="end" textLength="52" lengthAdjust="spacingAndGlyphs" transform="translate(811.6 505.7) rotate(-45)">2020 Qtr2</text>
<text class="b" font-size="11.5" fill="#595959" stroke="#595959" stroke-width=".25" text-anchor="end" textLength="52" lengthAdjust="spacingAndGlyphs" transform="translate(833.4 505.7) rotate(-45)">2020 Qtr3</text>
<text class="b" font-size="11.5" fill="#595959" stroke="#595959" stroke-width=".25" text-anchor="end" textLength="52" lengthAdjust="spacingAndGlyphs" transform="translate(855.3 505.7) rotate(-45)">2020 Qtr4</text>
<text class="b" font-size="11.5" fill="#595959" stroke="#595959" stroke-width=".25" text-anchor="end" textLength="52" lengthAdjust="spacingAndGlyphs" transform="translate(877.1 505.7) rotate(-45)">2021 Qtr1</text>
<text class="b" font-size="11.5" fill="#595959" stroke="#595959" stroke-width=".25" text-anchor="end" textLength="52" lengthAdjust="spacingAndGlyphs" transform="translate(899.0 505.7) rotate(-45)">2021 Qtr2</text>
<text class="b" font-size="11.5" fill="#595959" stroke="#595959" stroke-width=".25" text-anchor="end" textLength="52" lengthAdjust="spacingAndGlyphs" transform="translate(920.9 505.7) rotate(-45)">2021 Qtr3</text>
<text class="b" font-size="11.5" fill="#595959" stroke="#595959" stroke-width=".25" text-anchor="end" textLength="52" lengthAdjust="spacingAndGlyphs" transform="translate(942.7 505.7) rotate(-45)">2021 Qtr4</text>
<text class="b" font-size="11.5" fill="#595959" stroke="#595959" stroke-width=".25" text-anchor="end" textLength="52" lengthAdjust="spacingAndGlyphs" transform="translate(964.6 505.7) rotate(-45)">2022 Qtr1</text>
<text class="b" font-size="11.5" fill="#595959" stroke="#595959" stroke-width=".25" text-anchor="end" textLength="52" lengthAdjust="spacingAndGlyphs" transform="translate(986.4 505.7) rotate(-45)">2022 Qtr2</text>
<text class="b" font-size="11.5" fill="#595959" stroke="#595959" stroke-width=".25" text-anchor="end" textLength="52" lengthAdjust="spacingAndGlyphs" transform="translate(1008.3 505.7) rotate(-45)">2022 Qtr3</text>
<text y="563.6" font-size="12.8" fill="#1c1c1c"><tspan x="663.3" textLength="39.2" lengthAdjust="spacingAndGlyphs">source:</tspan> <tspan x="709.0" textLength="30.0" lengthAdjust="spacingAndGlyphs">Argus</tspan> <tspan x="742.3" textLength="53.1" lengthAdjust="spacingAndGlyphs">December</tspan> <tspan x="803.4" textLength="29.2" lengthAdjust="spacingAndGlyphs">2022;</tspan> <tspan x="836.6" textLength="42.4" lengthAdjust="spacingAndGlyphs">Analysis</tspan> <tspan x="885.7" textLength="11.6" lengthAdjust="spacingAndGlyphs">by</tspan> <tspan x="902.3" textLength="74.7" lengthAdjust="spacingAndGlyphs">FutureMetrics</tspan></text>
</svg>
</body></html>
